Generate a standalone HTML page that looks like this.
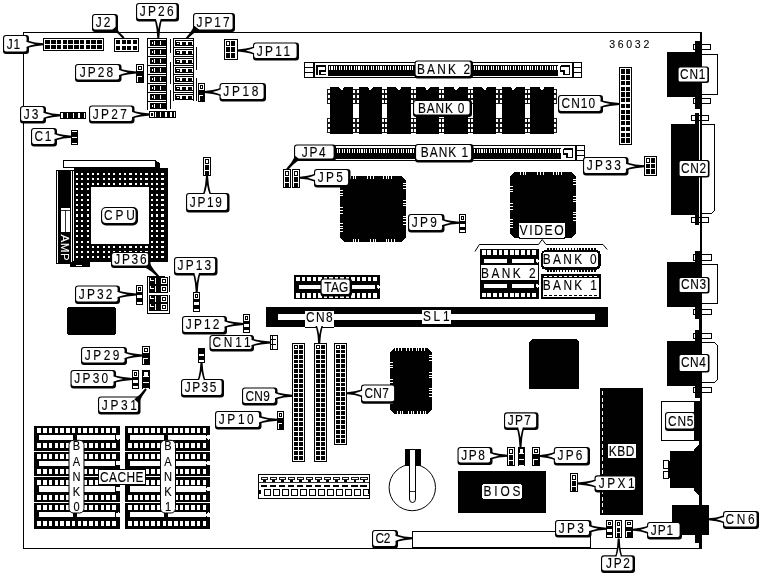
<!DOCTYPE html>
<html><head><meta charset="utf-8"><title>36032</title>
<style>
html,body{margin:0;padding:0;background:#fff}
svg{display:block}
text{font-family:"Liberation Sans",sans-serif;stroke:#000;stroke-width:0.12px}
</style></head>
<body>
<svg width="761" height="576" viewBox="0 0 761 576" shape-rendering="crispEdges">
<rect x="0" y="0" width="761" height="576" fill="#fff"/>
<g opacity="0.999">
<line x1="23.5" y1="32" x2="23.5" y2="549" stroke="#000" stroke-width="1"/>
<line x1="23" y1="32.5" x2="702" y2="32.5" stroke="#000" stroke-width="1"/>
<line x1="23" y1="548.5" x2="702" y2="548.5" stroke="#000" stroke-width="1"/>
<rect x="700" y="32" width="2" height="517" fill="#000"/>
<text transform="translate(609.3 47.6) scale(1 1)" font-size="10.5" fill="#000" letter-spacing="2.68">36032</text>
<rect x="43" y="38" width="61" height="13" fill="#000"/>
<rect x="44" y="39" width="59" height="11" fill="#fff"/>
<rect x="45.3" y="40.3" width="4.47" height="3.55" fill="#000"/>
<rect x="51.07" y="40.3" width="4.47" height="3.55" fill="#000"/>
<rect x="56.84" y="40.3" width="4.47" height="3.55" fill="#000"/>
<rect x="62.61" y="40.3" width="4.47" height="3.55" fill="#000"/>
<rect x="68.38" y="40.3" width="4.47" height="3.55" fill="#000"/>
<rect x="74.15" y="40.3" width="4.47" height="3.55" fill="#000"/>
<rect x="79.92" y="40.3" width="4.47" height="3.55" fill="#000"/>
<rect x="85.69" y="40.3" width="4.47" height="3.55" fill="#000"/>
<rect x="91.46" y="40.3" width="4.47" height="3.55" fill="#000"/>
<rect x="97.23" y="40.3" width="4.47" height="3.55" fill="#000"/>
<rect x="45.3" y="45.15" width="4.47" height="3.55" fill="#000"/>
<rect x="51.07" y="45.15" width="4.47" height="3.55" fill="#000"/>
<rect x="56.84" y="45.15" width="4.47" height="3.55" fill="#000"/>
<rect x="62.61" y="45.15" width="4.47" height="3.55" fill="#000"/>
<rect x="68.38" y="45.15" width="4.47" height="3.55" fill="#000"/>
<rect x="74.15" y="45.15" width="4.47" height="3.55" fill="#000"/>
<rect x="79.92" y="45.15" width="4.47" height="3.55" fill="#000"/>
<rect x="85.69" y="45.15" width="4.47" height="3.55" fill="#000"/>
<rect x="91.46" y="45.15" width="4.47" height="3.55" fill="#000"/>
<rect x="97.23" y="45.15" width="4.47" height="3.55" fill="#000"/>
<rect x="114" y="38" width="25" height="14" fill="#000"/>
<rect x="115" y="39" width="23" height="12" fill="#fff"/>
<rect x="116.3" y="40.3" width="4.12" height="4.05" fill="#000"/>
<rect x="121.72" y="40.3" width="4.12" height="4.05" fill="#000"/>
<rect x="127.15" y="40.3" width="4.12" height="4.05" fill="#000"/>
<rect x="132.57" y="40.3" width="4.12" height="4.05" fill="#000"/>
<rect x="116.3" y="45.65" width="4.12" height="4.05" fill="#000"/>
<rect x="121.72" y="45.65" width="4.12" height="4.05" fill="#000"/>
<rect x="127.15" y="45.65" width="4.12" height="4.05" fill="#000"/>
<rect x="132.57" y="45.65" width="4.12" height="4.05" fill="#000"/>
<rect x="147" y="38" width="20" height="1" fill="#000"/>
<rect x="147" y="38" width="1" height="9" fill="#000"/>
<rect x="166" y="38" width="1" height="9" fill="#000"/>
<rect x="149.6" y="40" width="17.4" height="6" fill="#000"/>
<rect x="150.6" y="41" width="4.2" height="4" fill="#fff"/>
<rect x="150.6" y="41" width="3" height="4" fill="#000"/>
<rect x="151.6" y="42" width="1" height="2" fill="#fff"/>
<rect x="160" y="41" width="1" height="4" fill="#fff"/>
<rect x="147" y="47" width="20" height="1" fill="#000"/>
<rect x="147" y="47" width="1" height="9" fill="#000"/>
<rect x="166" y="47" width="1" height="9" fill="#000"/>
<rect x="149.6" y="49" width="17.4" height="6" fill="#000"/>
<rect x="150.6" y="50" width="4.2" height="4" fill="#fff"/>
<rect x="150.6" y="50" width="3" height="4" fill="#000"/>
<rect x="151.6" y="51" width="1" height="2" fill="#fff"/>
<rect x="160" y="50" width="1" height="4" fill="#fff"/>
<rect x="147" y="56" width="20" height="1" fill="#000"/>
<rect x="147" y="56" width="1" height="9" fill="#000"/>
<rect x="166" y="56" width="1" height="9" fill="#000"/>
<rect x="149.6" y="58" width="17.4" height="6" fill="#000"/>
<rect x="150.6" y="59" width="4.2" height="4" fill="#fff"/>
<rect x="150.6" y="59" width="3" height="4" fill="#000"/>
<rect x="151.6" y="60" width="1" height="2" fill="#fff"/>
<rect x="160" y="59" width="1" height="4" fill="#fff"/>
<rect x="147" y="65" width="20" height="1" fill="#000"/>
<rect x="147" y="65" width="1" height="9" fill="#000"/>
<rect x="166" y="65" width="1" height="9" fill="#000"/>
<rect x="149.6" y="67" width="17.4" height="6" fill="#000"/>
<rect x="150.6" y="68" width="4.2" height="4" fill="#fff"/>
<rect x="150.6" y="68" width="3" height="4" fill="#000"/>
<rect x="151.6" y="69" width="1" height="2" fill="#fff"/>
<rect x="160" y="68" width="1" height="4" fill="#fff"/>
<rect x="147" y="74" width="20" height="1" fill="#000"/>
<rect x="147" y="74" width="1" height="9" fill="#000"/>
<rect x="166" y="74" width="1" height="9" fill="#000"/>
<rect x="149.6" y="76" width="17.4" height="6" fill="#000"/>
<rect x="150.6" y="77" width="4.2" height="4" fill="#fff"/>
<rect x="150.6" y="77" width="3" height="4" fill="#000"/>
<rect x="151.6" y="78" width="1" height="2" fill="#fff"/>
<rect x="160" y="77" width="1" height="4" fill="#fff"/>
<rect x="147" y="83" width="20" height="1" fill="#000"/>
<rect x="147" y="83" width="1" height="9" fill="#000"/>
<rect x="166" y="83" width="1" height="9" fill="#000"/>
<rect x="149.6" y="85" width="17.4" height="6" fill="#000"/>
<rect x="150.6" y="86" width="4.2" height="4" fill="#fff"/>
<rect x="150.6" y="86" width="3" height="4" fill="#000"/>
<rect x="151.6" y="87" width="1" height="2" fill="#fff"/>
<rect x="160" y="86" width="1" height="4" fill="#fff"/>
<rect x="147" y="92" width="20" height="1" fill="#000"/>
<rect x="147" y="92" width="1" height="9" fill="#000"/>
<rect x="166" y="92" width="1" height="9" fill="#000"/>
<rect x="149.6" y="94" width="17.4" height="6" fill="#000"/>
<rect x="150.6" y="95" width="4.2" height="4" fill="#fff"/>
<rect x="150.6" y="95" width="3" height="4" fill="#000"/>
<rect x="151.6" y="96" width="1" height="2" fill="#fff"/>
<rect x="160" y="95" width="1" height="4" fill="#fff"/>
<rect x="147" y="101" width="20" height="1" fill="#000"/>
<rect x="147" y="101" width="1" height="9" fill="#000"/>
<rect x="166" y="101" width="1" height="9" fill="#000"/>
<rect x="149.6" y="103" width="17.4" height="6" fill="#000"/>
<rect x="150.6" y="104" width="4.2" height="4" fill="#fff"/>
<rect x="150.6" y="104" width="3" height="4" fill="#000"/>
<rect x="151.6" y="105" width="1" height="2" fill="#fff"/>
<rect x="160" y="104" width="1" height="4" fill="#fff"/>
<rect x="173" y="38" width="21" height="1" fill="#000"/>
<rect x="173" y="38" width="1" height="9" fill="#000"/>
<rect x="193" y="38" width="1" height="9" fill="#000"/>
<rect x="175" y="40" width="19" height="6" fill="#000"/>
<rect x="176" y="41" width="17" height="4" fill="#fff"/>
<rect x="176.4" y="41.6" width="3.4" height="3.4" fill="#000"/>
<rect x="177.4" y="42.6" width="1.4" height="1.4" fill="#fff"/>
<rect x="182" y="41.6" width="4" height="3.4" fill="#000"/>
<rect x="188" y="41.6" width="4" height="3.4" fill="#000"/>
<rect x="173" y="47" width="21" height="1" fill="#000"/>
<rect x="173" y="47" width="1" height="9" fill="#000"/>
<rect x="193" y="47" width="1" height="9" fill="#000"/>
<rect x="175" y="49" width="19" height="6" fill="#000"/>
<rect x="176" y="50" width="17" height="4" fill="#fff"/>
<rect x="176.4" y="50.6" width="3.4" height="3.4" fill="#000"/>
<rect x="177.4" y="51.6" width="1.4" height="1.4" fill="#fff"/>
<rect x="182" y="50.6" width="4" height="3.4" fill="#000"/>
<rect x="188" y="50.6" width="4" height="3.4" fill="#000"/>
<rect x="173" y="56" width="21" height="1" fill="#000"/>
<rect x="173" y="56" width="1" height="9" fill="#000"/>
<rect x="193" y="56" width="1" height="9" fill="#000"/>
<rect x="175" y="58" width="19" height="6" fill="#000"/>
<rect x="176" y="59" width="17" height="4" fill="#fff"/>
<rect x="176.4" y="59.6" width="3.4" height="3.4" fill="#000"/>
<rect x="177.4" y="60.6" width="1.4" height="1.4" fill="#fff"/>
<rect x="182" y="59.6" width="4" height="3.4" fill="#000"/>
<rect x="188" y="59.6" width="4" height="3.4" fill="#000"/>
<rect x="173" y="65" width="21" height="1" fill="#000"/>
<rect x="173" y="65" width="1" height="9" fill="#000"/>
<rect x="193" y="65" width="1" height="9" fill="#000"/>
<rect x="175" y="67" width="19" height="6" fill="#000"/>
<rect x="176" y="68" width="17" height="4" fill="#fff"/>
<rect x="176.4" y="68.6" width="3.4" height="3.4" fill="#000"/>
<rect x="177.4" y="69.6" width="1.4" height="1.4" fill="#fff"/>
<rect x="182" y="68.6" width="4" height="3.4" fill="#000"/>
<rect x="188" y="68.6" width="4" height="3.4" fill="#000"/>
<rect x="173" y="74" width="21" height="1" fill="#000"/>
<rect x="173" y="74" width="1" height="9" fill="#000"/>
<rect x="193" y="74" width="1" height="9" fill="#000"/>
<rect x="175" y="76" width="19" height="6" fill="#000"/>
<rect x="176" y="77" width="17" height="4" fill="#fff"/>
<rect x="176.4" y="77.6" width="3.4" height="3.4" fill="#000"/>
<rect x="177.4" y="78.6" width="1.4" height="1.4" fill="#fff"/>
<rect x="182" y="77.6" width="4" height="3.4" fill="#000"/>
<rect x="188" y="77.6" width="4" height="3.4" fill="#000"/>
<rect x="173" y="83" width="21" height="1" fill="#000"/>
<rect x="173" y="83" width="1" height="9" fill="#000"/>
<rect x="193" y="83" width="1" height="9" fill="#000"/>
<rect x="175" y="85" width="19" height="6" fill="#000"/>
<rect x="176" y="86" width="17" height="4" fill="#fff"/>
<rect x="176.4" y="86.6" width="3.4" height="3.4" fill="#000"/>
<rect x="177.4" y="87.6" width="1.4" height="1.4" fill="#fff"/>
<rect x="182" y="86.6" width="4" height="3.4" fill="#000"/>
<rect x="188" y="86.6" width="4" height="3.4" fill="#000"/>
<rect x="173" y="92" width="21" height="1" fill="#000"/>
<rect x="173" y="92" width="1" height="9" fill="#000"/>
<rect x="193" y="92" width="1" height="9" fill="#000"/>
<rect x="175" y="94" width="19" height="6" fill="#000"/>
<rect x="176" y="95" width="17" height="4" fill="#fff"/>
<rect x="176.4" y="95.6" width="3.4" height="3.4" fill="#000"/>
<rect x="177.4" y="96.6" width="1.4" height="1.4" fill="#fff"/>
<rect x="182" y="95.6" width="4" height="3.4" fill="#000"/>
<rect x="188" y="95.6" width="4" height="3.4" fill="#000"/>
<line x1="170.5" y1="39" x2="170.5" y2="53" stroke="#000" stroke-width="1"/>
<line x1="170.5" y1="62" x2="170.5" y2="84" stroke="#000" stroke-width="1"/>
<line x1="170.5" y1="90" x2="170.5" y2="109" stroke="#000" stroke-width="1"/>
<line x1="196.5" y1="47" x2="196.5" y2="70" stroke="#000" stroke-width="1"/>
<line x1="196.5" y1="78" x2="196.5" y2="101" stroke="#000" stroke-width="1"/>
<rect x="136" y="64" width="8" height="19" fill="#000"/>
<rect x="137" y="65" width="6" height="6" fill="#fff"/>
<rect x="138" y="66" width="4" height="3.5" fill="#000"/>
<rect x="139" y="67" width="2" height="1.5" fill="#fff"/>
<rect x="137" y="75.5" width="5" height="1" fill="#fff"/>
<rect x="137" y="75.5" width="1" height="6.5" fill="#fff"/>
<rect x="224" y="39" width="13.5" height="21" fill="#000"/>
<rect x="225" y="40" width="11.5" height="19" fill="#fff"/>
<rect x="226.1" y="41.1" width="4.1" height="4.87" fill="#000"/>
<rect x="227.1" y="42.1" width="2.1" height="2.87" fill="#fff"/>
<rect x="231.3" y="41.1" width="4.1" height="4.87" fill="#000"/>
<rect x="226.1" y="47.07" width="4.1" height="4.87" fill="#000"/>
<rect x="231.3" y="47.07" width="4.1" height="4.87" fill="#000"/>
<rect x="226.1" y="53.03" width="4.1" height="4.87" fill="#000"/>
<rect x="231.3" y="53.03" width="4.1" height="4.87" fill="#000"/>
<rect x="198" y="83" width="7" height="19" fill="#000"/>
<rect x="199" y="84" width="5" height="6" fill="#fff"/>
<rect x="200" y="85" width="3" height="3.5" fill="#000"/>
<rect x="201" y="86" width="1" height="1.5" fill="#fff"/>
<rect x="199" y="94.5" width="4" height="1" fill="#fff"/>
<rect x="199" y="94.5" width="1" height="6.5" fill="#fff"/>
<rect x="60" y="112" width="26" height="7" fill="#000"/>
<rect x="61.2" y="113" width="1.8" height="5" fill="#fff"/>
<rect x="67" y="113" width="1.3" height="5" fill="#fff"/>
<rect x="72.9" y="113" width="1.3" height="5" fill="#fff"/>
<rect x="78.4" y="113" width="1.6" height="5" fill="#fff"/>
<rect x="83.9" y="113" width="1.3" height="5" fill="#fff"/>
<rect x="149" y="111" width="26.5" height="7" fill="#000"/>
<rect x="150" y="112" width="4.1" height="5" fill="#fff"/>
<rect x="151" y="113" width="2.1" height="3" fill="#000"/>
<rect x="152" y="114" width="0.1" height="1" fill="#fff"/>
<rect x="155.1" y="112" width="1.2" height="5" fill="#fff"/>
<rect x="160.2" y="112" width="1.2" height="5" fill="#fff"/>
<rect x="165.3" y="112" width="1.2" height="5" fill="#fff"/>
<rect x="170.4" y="112" width="1.2" height="5" fill="#fff"/>
<rect x="173.5" y="112" width="1" height="5" fill="#fff"/>
<rect x="71" y="130" width="7" height="15.2" fill="#000"/>
<rect x="72" y="131" width="5" height="1.2" fill="#fff"/>
<rect x="72" y="137" width="5" height="1.1" fill="#fff"/>
<rect x="72" y="142.6" width="5" height="1.2" fill="#fff"/>
<rect x="304" y="62" width="278" height="16" fill="#000"/>
<rect x="305" y="63" width="276" height="14" fill="#fff"/>
<rect x="312.5" y="62" width="2" height="16" fill="#000"/>
<line x1="304" y1="67.5" x2="313" y2="67.5" stroke="#000" stroke-width="1"/>
<line x1="304" y1="72.5" x2="313" y2="72.5" stroke="#000" stroke-width="1"/>
<polyline points="317,75 317,66 325.5,66 325.5,71 320,71 320,74.5 326,74.5" fill="none" stroke="#000" stroke-width="1.3"/>
<rect x="327.5" y="64.5" width="230.5" height="11.5" fill="#000"/>
<rect x="329" y="65.5" width="1.1" height="4.5" fill="#fff"/>
<rect x="331.45" y="65.5" width="1.1" height="4.5" fill="#fff"/>
<rect x="333.9" y="65.5" width="1.1" height="4.5" fill="#fff"/>
<rect x="336.35" y="65.5" width="1.1" height="4.5" fill="#fff"/>
<rect x="338.8" y="65.5" width="1.1" height="4.5" fill="#fff"/>
<rect x="341.25" y="65.5" width="1.1" height="4.5" fill="#fff"/>
<rect x="343.7" y="65.5" width="1.1" height="4.5" fill="#fff"/>
<rect x="346.15" y="65.5" width="1.1" height="4.5" fill="#fff"/>
<rect x="348.6" y="65.5" width="1.1" height="4.5" fill="#fff"/>
<rect x="351.05" y="65.5" width="1.1" height="4.5" fill="#fff"/>
<rect x="353.5" y="65.5" width="1.1" height="4.5" fill="#fff"/>
<rect x="355.95" y="65.5" width="1.1" height="4.5" fill="#fff"/>
<rect x="358.4" y="65.5" width="1.1" height="4.5" fill="#fff"/>
<rect x="360.85" y="65.5" width="1.1" height="4.5" fill="#fff"/>
<rect x="363.3" y="65.5" width="1.1" height="4.5" fill="#fff"/>
<rect x="365.75" y="65.5" width="1.1" height="4.5" fill="#fff"/>
<rect x="368.2" y="65.5" width="1.1" height="4.5" fill="#fff"/>
<rect x="370.65" y="65.5" width="1.1" height="4.5" fill="#fff"/>
<rect x="373.1" y="65.5" width="1.1" height="4.5" fill="#fff"/>
<rect x="375.55" y="65.5" width="1.1" height="4.5" fill="#fff"/>
<rect x="378" y="65.5" width="1.1" height="4.5" fill="#fff"/>
<rect x="380.45" y="65.5" width="1.1" height="4.5" fill="#fff"/>
<rect x="382.9" y="65.5" width="1.1" height="4.5" fill="#fff"/>
<rect x="385.35" y="65.5" width="1.1" height="4.5" fill="#fff"/>
<rect x="387.8" y="65.5" width="1.1" height="4.5" fill="#fff"/>
<rect x="390.25" y="65.5" width="1.1" height="4.5" fill="#fff"/>
<rect x="392.7" y="65.5" width="1.1" height="4.5" fill="#fff"/>
<rect x="395.15" y="65.5" width="1.1" height="4.5" fill="#fff"/>
<rect x="397.6" y="65.5" width="1.1" height="4.5" fill="#fff"/>
<rect x="400.05" y="65.5" width="1.1" height="4.5" fill="#fff"/>
<rect x="402.5" y="65.5" width="1.1" height="4.5" fill="#fff"/>
<rect x="404.95" y="65.5" width="1.1" height="4.5" fill="#fff"/>
<rect x="407.4" y="65.5" width="1.1" height="4.5" fill="#fff"/>
<rect x="409.85" y="65.5" width="1.1" height="4.5" fill="#fff"/>
<rect x="412.3" y="65.5" width="1.1" height="4.5" fill="#fff"/>
<rect x="414.75" y="65.5" width="1.1" height="4.5" fill="#fff"/>
<rect x="417.2" y="65.5" width="1.1" height="4.5" fill="#fff"/>
<rect x="419.65" y="65.5" width="1.1" height="4.5" fill="#fff"/>
<rect x="422.1" y="65.5" width="1.1" height="4.5" fill="#fff"/>
<rect x="424.55" y="65.5" width="1.1" height="4.5" fill="#fff"/>
<rect x="427" y="65.5" width="1.1" height="4.5" fill="#fff"/>
<rect x="429.45" y="65.5" width="1.1" height="4.5" fill="#fff"/>
<rect x="431.9" y="65.5" width="1.1" height="4.5" fill="#fff"/>
<rect x="434.35" y="65.5" width="1.1" height="4.5" fill="#fff"/>
<rect x="436.8" y="65.5" width="1.1" height="4.5" fill="#fff"/>
<rect x="439.25" y="65.5" width="1.1" height="4.5" fill="#fff"/>
<rect x="441.7" y="65.5" width="1.1" height="4.5" fill="#fff"/>
<rect x="444.15" y="65.5" width="1.1" height="4.5" fill="#fff"/>
<rect x="446.6" y="65.5" width="1.1" height="4.5" fill="#fff"/>
<rect x="449.05" y="65.5" width="1.1" height="4.5" fill="#fff"/>
<rect x="451.5" y="65.5" width="1.1" height="4.5" fill="#fff"/>
<rect x="453.95" y="65.5" width="1.1" height="4.5" fill="#fff"/>
<rect x="456.4" y="65.5" width="1.1" height="4.5" fill="#fff"/>
<rect x="458.85" y="65.5" width="1.1" height="4.5" fill="#fff"/>
<rect x="461.3" y="65.5" width="1.1" height="4.5" fill="#fff"/>
<rect x="463.75" y="65.5" width="1.1" height="4.5" fill="#fff"/>
<rect x="466.2" y="65.5" width="1.1" height="4.5" fill="#fff"/>
<rect x="468.65" y="65.5" width="1.1" height="4.5" fill="#fff"/>
<rect x="471.1" y="65.5" width="1.1" height="4.5" fill="#fff"/>
<rect x="473.55" y="65.5" width="1.1" height="4.5" fill="#fff"/>
<rect x="476" y="65.5" width="1.1" height="4.5" fill="#fff"/>
<rect x="478.45" y="65.5" width="1.1" height="4.5" fill="#fff"/>
<rect x="480.9" y="65.5" width="1.1" height="4.5" fill="#fff"/>
<rect x="483.35" y="65.5" width="1.1" height="4.5" fill="#fff"/>
<rect x="485.8" y="65.5" width="1.1" height="4.5" fill="#fff"/>
<rect x="488.25" y="65.5" width="1.1" height="4.5" fill="#fff"/>
<rect x="490.7" y="65.5" width="1.1" height="4.5" fill="#fff"/>
<rect x="493.15" y="65.5" width="1.1" height="4.5" fill="#fff"/>
<rect x="495.6" y="65.5" width="1.1" height="4.5" fill="#fff"/>
<rect x="498.05" y="65.5" width="1.1" height="4.5" fill="#fff"/>
<rect x="500.5" y="65.5" width="1.1" height="4.5" fill="#fff"/>
<rect x="502.95" y="65.5" width="1.1" height="4.5" fill="#fff"/>
<rect x="505.4" y="65.5" width="1.1" height="4.5" fill="#fff"/>
<rect x="507.85" y="65.5" width="1.1" height="4.5" fill="#fff"/>
<rect x="510.3" y="65.5" width="1.1" height="4.5" fill="#fff"/>
<rect x="512.75" y="65.5" width="1.1" height="4.5" fill="#fff"/>
<rect x="515.2" y="65.5" width="1.1" height="4.5" fill="#fff"/>
<rect x="517.65" y="65.5" width="1.1" height="4.5" fill="#fff"/>
<rect x="520.1" y="65.5" width="1.1" height="4.5" fill="#fff"/>
<rect x="522.55" y="65.5" width="1.1" height="4.5" fill="#fff"/>
<rect x="525" y="65.5" width="1.1" height="4.5" fill="#fff"/>
<rect x="527.45" y="65.5" width="1.1" height="4.5" fill="#fff"/>
<rect x="529.9" y="65.5" width="1.1" height="4.5" fill="#fff"/>
<rect x="532.35" y="65.5" width="1.1" height="4.5" fill="#fff"/>
<rect x="534.8" y="65.5" width="1.1" height="4.5" fill="#fff"/>
<rect x="537.25" y="65.5" width="1.1" height="4.5" fill="#fff"/>
<rect x="539.7" y="65.5" width="1.1" height="4.5" fill="#fff"/>
<rect x="542.15" y="65.5" width="1.1" height="4.5" fill="#fff"/>
<rect x="544.6" y="65.5" width="1.1" height="4.5" fill="#fff"/>
<rect x="547.05" y="65.5" width="1.1" height="4.5" fill="#fff"/>
<rect x="549.5" y="65.5" width="1.1" height="4.5" fill="#fff"/>
<rect x="551.95" y="65.5" width="1.1" height="4.5" fill="#fff"/>
<rect x="554.4" y="65.5" width="1.1" height="4.5" fill="#fff"/>
<rect x="556.85" y="65.5" width="1.1" height="4.5" fill="#fff"/>
<polyline points="561,66 569.5,66 569.5,74.5 564,74.5 564,71 560.5,71 560.5,66" fill="none" stroke="#000" stroke-width="1.3"/>
<rect x="571.5" y="62" width="2" height="16" fill="#000"/>
<line x1="573" y1="67.5" x2="582" y2="67.5" stroke="#000" stroke-width="1"/>
<line x1="573" y1="72.5" x2="582" y2="72.5" stroke="#000" stroke-width="1"/>
<rect x="307" y="145" width="278" height="16" fill="#000"/>
<rect x="308" y="146" width="276" height="14" fill="#fff"/>
<rect x="315.5" y="145" width="2" height="16" fill="#000"/>
<line x1="307" y1="150.5" x2="316" y2="150.5" stroke="#000" stroke-width="1"/>
<line x1="307" y1="155.5" x2="316" y2="155.5" stroke="#000" stroke-width="1"/>
<polyline points="320,158 320,149 328.5,149 328.5,154 323,154 323,157.5 329,157.5" fill="none" stroke="#000" stroke-width="1.3"/>
<rect x="330.5" y="147.5" width="230.5" height="11.5" fill="#000"/>
<rect x="332" y="148.5" width="1.1" height="4.5" fill="#fff"/>
<rect x="334.45" y="148.5" width="1.1" height="4.5" fill="#fff"/>
<rect x="336.9" y="148.5" width="1.1" height="4.5" fill="#fff"/>
<rect x="339.35" y="148.5" width="1.1" height="4.5" fill="#fff"/>
<rect x="341.8" y="148.5" width="1.1" height="4.5" fill="#fff"/>
<rect x="344.25" y="148.5" width="1.1" height="4.5" fill="#fff"/>
<rect x="346.7" y="148.5" width="1.1" height="4.5" fill="#fff"/>
<rect x="349.15" y="148.5" width="1.1" height="4.5" fill="#fff"/>
<rect x="351.6" y="148.5" width="1.1" height="4.5" fill="#fff"/>
<rect x="354.05" y="148.5" width="1.1" height="4.5" fill="#fff"/>
<rect x="356.5" y="148.5" width="1.1" height="4.5" fill="#fff"/>
<rect x="358.95" y="148.5" width="1.1" height="4.5" fill="#fff"/>
<rect x="361.4" y="148.5" width="1.1" height="4.5" fill="#fff"/>
<rect x="363.85" y="148.5" width="1.1" height="4.5" fill="#fff"/>
<rect x="366.3" y="148.5" width="1.1" height="4.5" fill="#fff"/>
<rect x="368.75" y="148.5" width="1.1" height="4.5" fill="#fff"/>
<rect x="371.2" y="148.5" width="1.1" height="4.5" fill="#fff"/>
<rect x="373.65" y="148.5" width="1.1" height="4.5" fill="#fff"/>
<rect x="376.1" y="148.5" width="1.1" height="4.5" fill="#fff"/>
<rect x="378.55" y="148.5" width="1.1" height="4.5" fill="#fff"/>
<rect x="381" y="148.5" width="1.1" height="4.5" fill="#fff"/>
<rect x="383.45" y="148.5" width="1.1" height="4.5" fill="#fff"/>
<rect x="385.9" y="148.5" width="1.1" height="4.5" fill="#fff"/>
<rect x="388.35" y="148.5" width="1.1" height="4.5" fill="#fff"/>
<rect x="390.8" y="148.5" width="1.1" height="4.5" fill="#fff"/>
<rect x="393.25" y="148.5" width="1.1" height="4.5" fill="#fff"/>
<rect x="395.7" y="148.5" width="1.1" height="4.5" fill="#fff"/>
<rect x="398.15" y="148.5" width="1.1" height="4.5" fill="#fff"/>
<rect x="400.6" y="148.5" width="1.1" height="4.5" fill="#fff"/>
<rect x="403.05" y="148.5" width="1.1" height="4.5" fill="#fff"/>
<rect x="405.5" y="148.5" width="1.1" height="4.5" fill="#fff"/>
<rect x="407.95" y="148.5" width="1.1" height="4.5" fill="#fff"/>
<rect x="410.4" y="148.5" width="1.1" height="4.5" fill="#fff"/>
<rect x="412.85" y="148.5" width="1.1" height="4.5" fill="#fff"/>
<rect x="415.3" y="148.5" width="1.1" height="4.5" fill="#fff"/>
<rect x="417.75" y="148.5" width="1.1" height="4.5" fill="#fff"/>
<rect x="420.2" y="148.5" width="1.1" height="4.5" fill="#fff"/>
<rect x="422.65" y="148.5" width="1.1" height="4.5" fill="#fff"/>
<rect x="425.1" y="148.5" width="1.1" height="4.5" fill="#fff"/>
<rect x="427.55" y="148.5" width="1.1" height="4.5" fill="#fff"/>
<rect x="430" y="148.5" width="1.1" height="4.5" fill="#fff"/>
<rect x="432.45" y="148.5" width="1.1" height="4.5" fill="#fff"/>
<rect x="434.9" y="148.5" width="1.1" height="4.5" fill="#fff"/>
<rect x="437.35" y="148.5" width="1.1" height="4.5" fill="#fff"/>
<rect x="439.8" y="148.5" width="1.1" height="4.5" fill="#fff"/>
<rect x="442.25" y="148.5" width="1.1" height="4.5" fill="#fff"/>
<rect x="444.7" y="148.5" width="1.1" height="4.5" fill="#fff"/>
<rect x="447.15" y="148.5" width="1.1" height="4.5" fill="#fff"/>
<rect x="449.6" y="148.5" width="1.1" height="4.5" fill="#fff"/>
<rect x="452.05" y="148.5" width="1.1" height="4.5" fill="#fff"/>
<rect x="454.5" y="148.5" width="1.1" height="4.5" fill="#fff"/>
<rect x="456.95" y="148.5" width="1.1" height="4.5" fill="#fff"/>
<rect x="459.4" y="148.5" width="1.1" height="4.5" fill="#fff"/>
<rect x="461.85" y="148.5" width="1.1" height="4.5" fill="#fff"/>
<rect x="464.3" y="148.5" width="1.1" height="4.5" fill="#fff"/>
<rect x="466.75" y="148.5" width="1.1" height="4.5" fill="#fff"/>
<rect x="469.2" y="148.5" width="1.1" height="4.5" fill="#fff"/>
<rect x="471.65" y="148.5" width="1.1" height="4.5" fill="#fff"/>
<rect x="474.1" y="148.5" width="1.1" height="4.5" fill="#fff"/>
<rect x="476.55" y="148.5" width="1.1" height="4.5" fill="#fff"/>
<rect x="479" y="148.5" width="1.1" height="4.5" fill="#fff"/>
<rect x="481.45" y="148.5" width="1.1" height="4.5" fill="#fff"/>
<rect x="483.9" y="148.5" width="1.1" height="4.5" fill="#fff"/>
<rect x="486.35" y="148.5" width="1.1" height="4.5" fill="#fff"/>
<rect x="488.8" y="148.5" width="1.1" height="4.5" fill="#fff"/>
<rect x="491.25" y="148.5" width="1.1" height="4.5" fill="#fff"/>
<rect x="493.7" y="148.5" width="1.1" height="4.5" fill="#fff"/>
<rect x="496.15" y="148.5" width="1.1" height="4.5" fill="#fff"/>
<rect x="498.6" y="148.5" width="1.1" height="4.5" fill="#fff"/>
<rect x="501.05" y="148.5" width="1.1" height="4.5" fill="#fff"/>
<rect x="503.5" y="148.5" width="1.1" height="4.5" fill="#fff"/>
<rect x="505.95" y="148.5" width="1.1" height="4.5" fill="#fff"/>
<rect x="508.4" y="148.5" width="1.1" height="4.5" fill="#fff"/>
<rect x="510.85" y="148.5" width="1.1" height="4.5" fill="#fff"/>
<rect x="513.3" y="148.5" width="1.1" height="4.5" fill="#fff"/>
<rect x="515.75" y="148.5" width="1.1" height="4.5" fill="#fff"/>
<rect x="518.2" y="148.5" width="1.1" height="4.5" fill="#fff"/>
<rect x="520.65" y="148.5" width="1.1" height="4.5" fill="#fff"/>
<rect x="523.1" y="148.5" width="1.1" height="4.5" fill="#fff"/>
<rect x="525.55" y="148.5" width="1.1" height="4.5" fill="#fff"/>
<rect x="528" y="148.5" width="1.1" height="4.5" fill="#fff"/>
<rect x="530.45" y="148.5" width="1.1" height="4.5" fill="#fff"/>
<rect x="532.9" y="148.5" width="1.1" height="4.5" fill="#fff"/>
<rect x="535.35" y="148.5" width="1.1" height="4.5" fill="#fff"/>
<rect x="537.8" y="148.5" width="1.1" height="4.5" fill="#fff"/>
<rect x="540.25" y="148.5" width="1.1" height="4.5" fill="#fff"/>
<rect x="542.7" y="148.5" width="1.1" height="4.5" fill="#fff"/>
<rect x="545.15" y="148.5" width="1.1" height="4.5" fill="#fff"/>
<rect x="547.6" y="148.5" width="1.1" height="4.5" fill="#fff"/>
<rect x="550.05" y="148.5" width="1.1" height="4.5" fill="#fff"/>
<rect x="552.5" y="148.5" width="1.1" height="4.5" fill="#fff"/>
<rect x="554.95" y="148.5" width="1.1" height="4.5" fill="#fff"/>
<rect x="557.4" y="148.5" width="1.1" height="4.5" fill="#fff"/>
<rect x="559.85" y="148.5" width="1.1" height="4.5" fill="#fff"/>
<polyline points="564,149 572.5,149 572.5,157.5 567,157.5 567,154 563.5,154 563.5,149" fill="none" stroke="#000" stroke-width="1.3"/>
<rect x="574.5" y="145" width="2" height="16" fill="#000"/>
<line x1="576" y1="150.5" x2="585" y2="150.5" stroke="#000" stroke-width="1"/>
<line x1="576" y1="155.5" x2="585" y2="155.5" stroke="#000" stroke-width="1"/>
<rect x="327.5" y="89.5" width="3.5" height="4" fill="#fff" stroke="#000" stroke-width="0.9"/>
<rect x="327.5" y="94.7" width="3.5" height="4" fill="#fff" stroke="#000" stroke-width="0.9"/>
<rect x="327.5" y="99.9" width="3.5" height="4" fill="#fff" stroke="#000" stroke-width="0.9"/>
<rect x="327.5" y="118.5" width="3.5" height="4" fill="#fff" stroke="#000" stroke-width="0.9"/>
<rect x="327.5" y="123.7" width="3.5" height="4" fill="#fff" stroke="#000" stroke-width="0.9"/>
<rect x="327.5" y="128.9" width="3.5" height="4" fill="#fff" stroke="#000" stroke-width="0.9"/>
<rect x="352.3" y="89.5" width="3.5" height="4" fill="#fff" stroke="#000" stroke-width="0.9"/>
<rect x="352.3" y="94.7" width="3.5" height="4" fill="#fff" stroke="#000" stroke-width="0.9"/>
<rect x="352.3" y="99.9" width="3.5" height="4" fill="#fff" stroke="#000" stroke-width="0.9"/>
<rect x="352.3" y="118.5" width="3.5" height="4" fill="#fff" stroke="#000" stroke-width="0.9"/>
<rect x="352.3" y="123.7" width="3.5" height="4" fill="#fff" stroke="#000" stroke-width="0.9"/>
<rect x="352.3" y="128.9" width="3.5" height="4" fill="#fff" stroke="#000" stroke-width="0.9"/>
<rect x="330" y="87" width="23.3" height="46.5" fill="#000"/>
<polygon points="338.65,86.8 344.65,86.8 342.65,89.5 340.65,89.5" fill="#fff"/>
<rect x="356.12" y="89.5" width="3.5" height="4" fill="#fff" stroke="#000" stroke-width="0.9"/>
<rect x="356.12" y="94.7" width="3.5" height="4" fill="#fff" stroke="#000" stroke-width="0.9"/>
<rect x="356.12" y="99.9" width="3.5" height="4" fill="#fff" stroke="#000" stroke-width="0.9"/>
<rect x="356.12" y="118.5" width="3.5" height="4" fill="#fff" stroke="#000" stroke-width="0.9"/>
<rect x="356.12" y="123.7" width="3.5" height="4" fill="#fff" stroke="#000" stroke-width="0.9"/>
<rect x="356.12" y="128.9" width="3.5" height="4" fill="#fff" stroke="#000" stroke-width="0.9"/>
<rect x="380.92" y="89.5" width="3.5" height="4" fill="#fff" stroke="#000" stroke-width="0.9"/>
<rect x="380.92" y="94.7" width="3.5" height="4" fill="#fff" stroke="#000" stroke-width="0.9"/>
<rect x="380.92" y="99.9" width="3.5" height="4" fill="#fff" stroke="#000" stroke-width="0.9"/>
<rect x="380.92" y="118.5" width="3.5" height="4" fill="#fff" stroke="#000" stroke-width="0.9"/>
<rect x="380.92" y="123.7" width="3.5" height="4" fill="#fff" stroke="#000" stroke-width="0.9"/>
<rect x="380.92" y="128.9" width="3.5" height="4" fill="#fff" stroke="#000" stroke-width="0.9"/>
<rect x="358.62" y="87" width="23.3" height="46.5" fill="#000"/>
<polygon points="367.27,86.8 373.27,86.8 371.27,89.5 369.27,89.5" fill="#fff"/>
<rect x="384.74" y="89.5" width="3.5" height="4" fill="#fff" stroke="#000" stroke-width="0.9"/>
<rect x="384.74" y="94.7" width="3.5" height="4" fill="#fff" stroke="#000" stroke-width="0.9"/>
<rect x="384.74" y="99.9" width="3.5" height="4" fill="#fff" stroke="#000" stroke-width="0.9"/>
<rect x="384.74" y="118.5" width="3.5" height="4" fill="#fff" stroke="#000" stroke-width="0.9"/>
<rect x="384.74" y="123.7" width="3.5" height="4" fill="#fff" stroke="#000" stroke-width="0.9"/>
<rect x="384.74" y="128.9" width="3.5" height="4" fill="#fff" stroke="#000" stroke-width="0.9"/>
<rect x="409.54" y="89.5" width="3.5" height="4" fill="#fff" stroke="#000" stroke-width="0.9"/>
<rect x="409.54" y="94.7" width="3.5" height="4" fill="#fff" stroke="#000" stroke-width="0.9"/>
<rect x="409.54" y="99.9" width="3.5" height="4" fill="#fff" stroke="#000" stroke-width="0.9"/>
<rect x="409.54" y="118.5" width="3.5" height="4" fill="#fff" stroke="#000" stroke-width="0.9"/>
<rect x="409.54" y="123.7" width="3.5" height="4" fill="#fff" stroke="#000" stroke-width="0.9"/>
<rect x="409.54" y="128.9" width="3.5" height="4" fill="#fff" stroke="#000" stroke-width="0.9"/>
<rect x="387.24" y="87" width="23.3" height="46.5" fill="#000"/>
<polygon points="395.89,86.8 401.89,86.8 399.89,89.5 397.89,89.5" fill="#fff"/>
<rect x="413.36" y="89.5" width="3.5" height="4" fill="#fff" stroke="#000" stroke-width="0.9"/>
<rect x="413.36" y="94.7" width="3.5" height="4" fill="#fff" stroke="#000" stroke-width="0.9"/>
<rect x="413.36" y="99.9" width="3.5" height="4" fill="#fff" stroke="#000" stroke-width="0.9"/>
<rect x="413.36" y="118.5" width="3.5" height="4" fill="#fff" stroke="#000" stroke-width="0.9"/>
<rect x="413.36" y="123.7" width="3.5" height="4" fill="#fff" stroke="#000" stroke-width="0.9"/>
<rect x="413.36" y="128.9" width="3.5" height="4" fill="#fff" stroke="#000" stroke-width="0.9"/>
<rect x="438.16" y="89.5" width="3.5" height="4" fill="#fff" stroke="#000" stroke-width="0.9"/>
<rect x="438.16" y="94.7" width="3.5" height="4" fill="#fff" stroke="#000" stroke-width="0.9"/>
<rect x="438.16" y="99.9" width="3.5" height="4" fill="#fff" stroke="#000" stroke-width="0.9"/>
<rect x="438.16" y="118.5" width="3.5" height="4" fill="#fff" stroke="#000" stroke-width="0.9"/>
<rect x="438.16" y="123.7" width="3.5" height="4" fill="#fff" stroke="#000" stroke-width="0.9"/>
<rect x="438.16" y="128.9" width="3.5" height="4" fill="#fff" stroke="#000" stroke-width="0.9"/>
<rect x="415.86" y="87" width="23.3" height="46.5" fill="#000"/>
<polygon points="424.51,86.8 430.51,86.8 428.51,89.5 426.51,89.5" fill="#fff"/>
<rect x="441.98" y="89.5" width="3.5" height="4" fill="#fff" stroke="#000" stroke-width="0.9"/>
<rect x="441.98" y="94.7" width="3.5" height="4" fill="#fff" stroke="#000" stroke-width="0.9"/>
<rect x="441.98" y="99.9" width="3.5" height="4" fill="#fff" stroke="#000" stroke-width="0.9"/>
<rect x="441.98" y="118.5" width="3.5" height="4" fill="#fff" stroke="#000" stroke-width="0.9"/>
<rect x="441.98" y="123.7" width="3.5" height="4" fill="#fff" stroke="#000" stroke-width="0.9"/>
<rect x="441.98" y="128.9" width="3.5" height="4" fill="#fff" stroke="#000" stroke-width="0.9"/>
<rect x="466.78" y="89.5" width="3.5" height="4" fill="#fff" stroke="#000" stroke-width="0.9"/>
<rect x="466.78" y="94.7" width="3.5" height="4" fill="#fff" stroke="#000" stroke-width="0.9"/>
<rect x="466.78" y="99.9" width="3.5" height="4" fill="#fff" stroke="#000" stroke-width="0.9"/>
<rect x="466.78" y="118.5" width="3.5" height="4" fill="#fff" stroke="#000" stroke-width="0.9"/>
<rect x="466.78" y="123.7" width="3.5" height="4" fill="#fff" stroke="#000" stroke-width="0.9"/>
<rect x="466.78" y="128.9" width="3.5" height="4" fill="#fff" stroke="#000" stroke-width="0.9"/>
<rect x="444.48" y="87" width="23.3" height="46.5" fill="#000"/>
<polygon points="453.13,86.8 459.13,86.8 457.13,89.5 455.13,89.5" fill="#fff"/>
<rect x="470.6" y="89.5" width="3.5" height="4" fill="#fff" stroke="#000" stroke-width="0.9"/>
<rect x="470.6" y="94.7" width="3.5" height="4" fill="#fff" stroke="#000" stroke-width="0.9"/>
<rect x="470.6" y="99.9" width="3.5" height="4" fill="#fff" stroke="#000" stroke-width="0.9"/>
<rect x="470.6" y="118.5" width="3.5" height="4" fill="#fff" stroke="#000" stroke-width="0.9"/>
<rect x="470.6" y="123.7" width="3.5" height="4" fill="#fff" stroke="#000" stroke-width="0.9"/>
<rect x="470.6" y="128.9" width="3.5" height="4" fill="#fff" stroke="#000" stroke-width="0.9"/>
<rect x="495.4" y="89.5" width="3.5" height="4" fill="#fff" stroke="#000" stroke-width="0.9"/>
<rect x="495.4" y="94.7" width="3.5" height="4" fill="#fff" stroke="#000" stroke-width="0.9"/>
<rect x="495.4" y="99.9" width="3.5" height="4" fill="#fff" stroke="#000" stroke-width="0.9"/>
<rect x="495.4" y="118.5" width="3.5" height="4" fill="#fff" stroke="#000" stroke-width="0.9"/>
<rect x="495.4" y="123.7" width="3.5" height="4" fill="#fff" stroke="#000" stroke-width="0.9"/>
<rect x="495.4" y="128.9" width="3.5" height="4" fill="#fff" stroke="#000" stroke-width="0.9"/>
<rect x="473.1" y="87" width="23.3" height="46.5" fill="#000"/>
<polygon points="481.75,86.8 487.75,86.8 485.75,89.5 483.75,89.5" fill="#fff"/>
<rect x="499.22" y="89.5" width="3.5" height="4" fill="#fff" stroke="#000" stroke-width="0.9"/>
<rect x="499.22" y="94.7" width="3.5" height="4" fill="#fff" stroke="#000" stroke-width="0.9"/>
<rect x="499.22" y="99.9" width="3.5" height="4" fill="#fff" stroke="#000" stroke-width="0.9"/>
<rect x="499.22" y="118.5" width="3.5" height="4" fill="#fff" stroke="#000" stroke-width="0.9"/>
<rect x="499.22" y="123.7" width="3.5" height="4" fill="#fff" stroke="#000" stroke-width="0.9"/>
<rect x="499.22" y="128.9" width="3.5" height="4" fill="#fff" stroke="#000" stroke-width="0.9"/>
<rect x="524.02" y="89.5" width="3.5" height="4" fill="#fff" stroke="#000" stroke-width="0.9"/>
<rect x="524.02" y="94.7" width="3.5" height="4" fill="#fff" stroke="#000" stroke-width="0.9"/>
<rect x="524.02" y="99.9" width="3.5" height="4" fill="#fff" stroke="#000" stroke-width="0.9"/>
<rect x="524.02" y="118.5" width="3.5" height="4" fill="#fff" stroke="#000" stroke-width="0.9"/>
<rect x="524.02" y="123.7" width="3.5" height="4" fill="#fff" stroke="#000" stroke-width="0.9"/>
<rect x="524.02" y="128.9" width="3.5" height="4" fill="#fff" stroke="#000" stroke-width="0.9"/>
<rect x="501.72" y="87" width="23.3" height="46.5" fill="#000"/>
<polygon points="510.37,86.8 516.37,86.8 514.37,89.5 512.37,89.5" fill="#fff"/>
<rect x="527.84" y="89.5" width="3.5" height="4" fill="#fff" stroke="#000" stroke-width="0.9"/>
<rect x="527.84" y="94.7" width="3.5" height="4" fill="#fff" stroke="#000" stroke-width="0.9"/>
<rect x="527.84" y="99.9" width="3.5" height="4" fill="#fff" stroke="#000" stroke-width="0.9"/>
<rect x="527.84" y="118.5" width="3.5" height="4" fill="#fff" stroke="#000" stroke-width="0.9"/>
<rect x="527.84" y="123.7" width="3.5" height="4" fill="#fff" stroke="#000" stroke-width="0.9"/>
<rect x="527.84" y="128.9" width="3.5" height="4" fill="#fff" stroke="#000" stroke-width="0.9"/>
<rect x="552.64" y="89.5" width="3.5" height="4" fill="#fff" stroke="#000" stroke-width="0.9"/>
<rect x="552.64" y="94.7" width="3.5" height="4" fill="#fff" stroke="#000" stroke-width="0.9"/>
<rect x="552.64" y="99.9" width="3.5" height="4" fill="#fff" stroke="#000" stroke-width="0.9"/>
<rect x="552.64" y="118.5" width="3.5" height="4" fill="#fff" stroke="#000" stroke-width="0.9"/>
<rect x="552.64" y="123.7" width="3.5" height="4" fill="#fff" stroke="#000" stroke-width="0.9"/>
<rect x="552.64" y="128.9" width="3.5" height="4" fill="#fff" stroke="#000" stroke-width="0.9"/>
<rect x="530.34" y="87" width="23.3" height="46.5" fill="#000"/>
<polygon points="538.99,86.8 544.99,86.8 542.99,89.5 540.99,89.5" fill="#fff"/>
<rect x="283" y="169" width="8" height="19" fill="#000"/>
<rect x="284" y="170" width="6" height="17" fill="#fff"/>
<rect x="285" y="171" width="4" height="4.5" fill="#000"/>
<rect x="286" y="172" width="2" height="2.5" fill="#fff"/>
<rect x="285" y="177" width="4" height="4.5" fill="#000"/>
<rect x="285" y="183" width="4" height="4.5" fill="#000"/>
<rect x="292" y="169" width="8" height="19" fill="#000"/>
<rect x="293" y="170" width="6" height="17" fill="#fff"/>
<rect x="294" y="171" width="4" height="4.5" fill="#000"/>
<rect x="295" y="172" width="2" height="2.5" fill="#fff"/>
<rect x="294" y="177" width="4" height="4.5" fill="#000"/>
<rect x="294" y="183" width="4" height="4.5" fill="#000"/>
<rect x="203" y="157" width="8" height="19" fill="#000"/>
<rect x="204" y="158" width="6" height="17" fill="#fff"/>
<rect x="205" y="159" width="4" height="4.5" fill="#000"/>
<rect x="206" y="160" width="2" height="2.5" fill="#fff"/>
<rect x="205" y="165" width="4" height="4.5" fill="#000"/>
<rect x="205" y="171" width="4" height="4.5" fill="#000"/>
<rect x="619" y="67" width="13" height="78" fill="#000"/>
<rect x="620" y="68" width="11" height="76" fill="#fff"/>
<rect x="621.3" y="69.3" width="3.55" height="4.45" fill="#000"/>
<rect x="626.15" y="69.3" width="3.55" height="4.45" fill="#000"/>
<rect x="621.3" y="75.05" width="3.55" height="4.45" fill="#000"/>
<rect x="626.15" y="75.05" width="3.55" height="4.45" fill="#000"/>
<rect x="621.3" y="80.79" width="3.55" height="4.45" fill="#000"/>
<rect x="626.15" y="80.79" width="3.55" height="4.45" fill="#000"/>
<rect x="621.3" y="86.54" width="3.55" height="4.45" fill="#000"/>
<rect x="626.15" y="86.54" width="3.55" height="4.45" fill="#000"/>
<rect x="621.3" y="92.28" width="3.55" height="4.45" fill="#000"/>
<rect x="626.15" y="92.28" width="3.55" height="4.45" fill="#000"/>
<rect x="621.3" y="98.03" width="3.55" height="4.45" fill="#000"/>
<rect x="626.15" y="98.03" width="3.55" height="4.45" fill="#000"/>
<rect x="621.3" y="103.78" width="3.55" height="4.45" fill="#000"/>
<rect x="626.15" y="103.78" width="3.55" height="4.45" fill="#000"/>
<rect x="621.3" y="109.52" width="3.55" height="4.45" fill="#000"/>
<rect x="626.15" y="109.52" width="3.55" height="4.45" fill="#000"/>
<rect x="621.3" y="115.27" width="3.55" height="4.45" fill="#000"/>
<rect x="626.15" y="115.27" width="3.55" height="4.45" fill="#000"/>
<rect x="621.3" y="121.02" width="3.55" height="4.45" fill="#000"/>
<rect x="626.15" y="121.02" width="3.55" height="4.45" fill="#000"/>
<rect x="621.3" y="126.76" width="3.55" height="4.45" fill="#000"/>
<rect x="626.15" y="126.76" width="3.55" height="4.45" fill="#000"/>
<rect x="621.3" y="132.51" width="3.55" height="4.45" fill="#000"/>
<rect x="626.15" y="132.51" width="3.55" height="4.45" fill="#000"/>
<rect x="621.3" y="138.25" width="3.55" height="4.45" fill="#000"/>
<rect x="626.15" y="138.25" width="3.55" height="4.45" fill="#000"/>
<rect x="644" y="156" width="13" height="20" fill="#000"/>
<rect x="645" y="157" width="11" height="18" fill="#fff"/>
<rect x="646.1" y="158.1" width="3.85" height="4.53" fill="#000"/>
<rect x="647.1" y="159.1" width="1.85" height="2.53" fill="#fff"/>
<rect x="651.05" y="158.1" width="3.85" height="4.53" fill="#000"/>
<rect x="646.1" y="163.73" width="3.85" height="4.53" fill="#000"/>
<rect x="651.05" y="163.73" width="3.85" height="4.53" fill="#000"/>
<rect x="646.1" y="169.37" width="3.85" height="4.53" fill="#000"/>
<rect x="651.05" y="169.37" width="3.85" height="4.53" fill="#000"/>
<rect x="695.3" y="41" width="6.7" height="68" fill="#000"/>
<path d="M701 54.5 H717.5 L717.5 54.5 V94.5 L717.5 94.5 H701" fill="#fff" stroke="#000" stroke-width="1"/>
<rect x="667" y="52" width="35" height="45" fill="#000"/>
<rect x="693" y="44" width="18" height="6" fill="#000"/>
<rect x="694" y="45" width="16" height="4" fill="#fff"/>
<rect x="695.3" y="43.5" width="6.7" height="7" fill="#000"/>
<rect x="693" y="98" width="18" height="6" fill="#000"/>
<rect x="694" y="99" width="16" height="4" fill="#fff"/>
<rect x="695.3" y="97.5" width="6.7" height="7" fill="#000"/>
<rect x="695.3" y="113" width="3.7" height="111.5" fill="#000"/>
<path d="M701 124.5 H714.5 L714.5 124.5 V210.5 L711.5 213.5 H701" fill="#fff" stroke="#000" stroke-width="1"/>
<rect x="671" y="124" width="28" height="90.5" fill="#000"/>
<rect x="691" y="115" width="18" height="6" fill="#000"/>
<rect x="692" y="116" width="16" height="4" fill="#fff"/>
<rect x="695.3" y="114.5" width="3.7" height="7" fill="#000"/>
<rect x="691" y="217" width="18" height="6" fill="#000"/>
<rect x="692" y="218" width="16" height="4" fill="#fff"/>
<rect x="695.3" y="216.5" width="3.7" height="7" fill="#000"/>
<rect x="700" y="113" width="2" height="112" fill="#000"/>
<rect x="695.3" y="251" width="6.7" height="68" fill="#000"/>
<path d="M701 264.5 H717.5 L717.5 264.5 V303.5 L717.5 303.5 H701" fill="#fff" stroke="#000" stroke-width="1"/>
<rect x="667" y="262" width="35" height="44.5" fill="#000"/>
<rect x="693" y="254" width="18.5" height="6.5" fill="#000"/>
<rect x="694" y="255" width="16.5" height="4.5" fill="#fff"/>
<rect x="695.3" y="253.5" width="6.7" height="7.5" fill="#000"/>
<rect x="693" y="308.5" width="18.5" height="6.5" fill="#000"/>
<rect x="694" y="309.5" width="16.5" height="4.5" fill="#fff"/>
<rect x="695.3" y="308" width="6.7" height="7.5" fill="#000"/>
<rect x="699.3" y="319" width="2.7" height="11" fill="#000"/>
<rect x="695.3" y="330" width="6.7" height="67.5" fill="#000"/>
<path d="M701 342.5 H714.5 L717.5 345.5 V379.5 L714.5 382.5 H701" fill="#fff" stroke="#000" stroke-width="1"/>
<rect x="667" y="341" width="35" height="44.5" fill="#000"/>
<rect x="693" y="333" width="18.5" height="5.5" fill="#000"/>
<rect x="694" y="334" width="16.5" height="3.5" fill="#fff"/>
<rect x="695.3" y="332.5" width="6.7" height="6.5" fill="#000"/>
<rect x="693" y="387" width="18.5" height="6" fill="#000"/>
<rect x="694" y="388" width="16.5" height="4" fill="#fff"/>
<rect x="695.3" y="386.5" width="6.7" height="7" fill="#000"/>
<rect x="694" y="400.5" width="8" height="97.5" fill="#000"/>
<rect x="699.4" y="497" width="2.6" height="52" fill="#000"/>
<rect x="661.5" y="401" width="33" height="39.5" fill="#fff" stroke="#000" stroke-width="1"/>
<polygon points="700,441 700,444 694.3,450 694.3,451 670.3,451 670.3,488.3 694.3,488.3 694.3,490 700,495.5 700,498 702,498 702,441" fill="#000"/>
<polygon points="694,441.2 699.4,441.2 699.4,444.5 694,450" fill="#fff"/>
<polygon points="694,490 699.4,495.5 699.4,497.5 694,497.5" fill="#fff"/>
<rect x="667.7" y="461" width="2.8" height="17" fill="#000"/>
<rect x="663.5" y="460.5" width="4.5" height="7.5" fill="#fff" stroke="#000" stroke-width="1"/>
<rect x="663.5" y="471" width="4.5" height="7.5" fill="#fff" stroke="#000" stroke-width="1"/>
<rect x="672" y="505" width="37" height="30" fill="#000"/>
<rect x="695" y="497.5" width="7" height="45.5" fill="#000"/>
<rect x="695" y="497.5" width="4.4" height="7.5" fill="#fff"/>
<rect x="63.5" y="160.5" width="92" height="7" fill="#fff" stroke="#000" stroke-width="1"/>
<polygon points="156,160.5 160,163.5 160,168 156,168" fill="#000"/>
<rect x="73.5" y="167.5" width="94.5" height="94" fill="#000"/>
<rect x="91" y="187" width="57.7" height="57" fill="#fff"/>
<path d="M76 172.7h2.1v2.1h-2.1zM81.34 172.7h2.1v2.1h-2.1zM86.68 172.7h2.1v2.1h-2.1zM92.02 172.7h2.1v2.1h-2.1zM97.36 172.7h2.1v2.1h-2.1zM102.7 172.7h2.1v2.1h-2.1zM108.04 172.7h2.1v2.1h-2.1zM113.38 172.7h2.1v2.1h-2.1zM118.72 172.7h2.1v2.1h-2.1zM124.06 172.7h2.1v2.1h-2.1zM129.4 172.7h2.1v2.1h-2.1zM134.74 172.7h2.1v2.1h-2.1zM140.08 172.7h2.1v2.1h-2.1zM145.42 172.7h2.1v2.1h-2.1zM150.76 172.7h2.1v2.1h-2.1zM156.1 172.7h2.1v2.1h-2.1zM161.44 172.7h2.1v2.1h-2.1zM76 177.92h2.1v2.1h-2.1zM81.34 177.92h2.1v2.1h-2.1zM86.68 177.92h2.1v2.1h-2.1zM92.02 177.92h2.1v2.1h-2.1zM97.36 177.92h2.1v2.1h-2.1zM102.7 177.92h2.1v2.1h-2.1zM108.04 177.92h2.1v2.1h-2.1zM113.38 177.92h2.1v2.1h-2.1zM118.72 177.92h2.1v2.1h-2.1zM124.06 177.92h2.1v2.1h-2.1zM129.4 177.92h2.1v2.1h-2.1zM134.74 177.92h2.1v2.1h-2.1zM140.08 177.92h2.1v2.1h-2.1zM145.42 177.92h2.1v2.1h-2.1zM150.76 177.92h2.1v2.1h-2.1zM156.1 177.92h2.1v2.1h-2.1zM161.44 177.92h2.1v2.1h-2.1zM76 183.14h2.1v2.1h-2.1zM81.34 183.14h2.1v2.1h-2.1zM86.68 183.14h2.1v2.1h-2.1zM92.02 183.14h2.1v2.1h-2.1zM97.36 183.14h2.1v2.1h-2.1zM102.7 183.14h2.1v2.1h-2.1zM108.04 183.14h2.1v2.1h-2.1zM113.38 183.14h2.1v2.1h-2.1zM118.72 183.14h2.1v2.1h-2.1zM124.06 183.14h2.1v2.1h-2.1zM129.4 183.14h2.1v2.1h-2.1zM134.74 183.14h2.1v2.1h-2.1zM140.08 183.14h2.1v2.1h-2.1zM145.42 183.14h2.1v2.1h-2.1zM150.76 183.14h2.1v2.1h-2.1zM156.1 183.14h2.1v2.1h-2.1zM161.44 183.14h2.1v2.1h-2.1zM76 188.36h2.1v2.1h-2.1zM81.34 188.36h2.1v2.1h-2.1zM86.68 188.36h2.1v2.1h-2.1zM150.76 188.36h2.1v2.1h-2.1zM156.1 188.36h2.1v2.1h-2.1zM161.44 188.36h2.1v2.1h-2.1zM76 193.58h2.1v2.1h-2.1zM81.34 193.58h2.1v2.1h-2.1zM86.68 193.58h2.1v2.1h-2.1zM150.76 193.58h2.1v2.1h-2.1zM156.1 193.58h2.1v2.1h-2.1zM161.44 193.58h2.1v2.1h-2.1zM76 198.8h2.1v2.1h-2.1zM81.34 198.8h2.1v2.1h-2.1zM86.68 198.8h2.1v2.1h-2.1zM150.76 198.8h2.1v2.1h-2.1zM156.1 198.8h2.1v2.1h-2.1zM161.44 198.8h2.1v2.1h-2.1zM76 204.02h2.1v2.1h-2.1zM81.34 204.02h2.1v2.1h-2.1zM86.68 204.02h2.1v2.1h-2.1zM150.76 204.02h2.1v2.1h-2.1zM156.1 204.02h2.1v2.1h-2.1zM161.44 204.02h2.1v2.1h-2.1zM76 209.24h2.1v2.1h-2.1zM81.34 209.24h2.1v2.1h-2.1zM86.68 209.24h2.1v2.1h-2.1zM150.76 209.24h2.1v2.1h-2.1zM156.1 209.24h2.1v2.1h-2.1zM161.44 209.24h2.1v2.1h-2.1zM76 214.46h2.1v2.1h-2.1zM81.34 214.46h2.1v2.1h-2.1zM86.68 214.46h2.1v2.1h-2.1zM150.76 214.46h2.1v2.1h-2.1zM156.1 214.46h2.1v2.1h-2.1zM161.44 214.46h2.1v2.1h-2.1zM76 219.68h2.1v2.1h-2.1zM81.34 219.68h2.1v2.1h-2.1zM86.68 219.68h2.1v2.1h-2.1zM150.76 219.68h2.1v2.1h-2.1zM156.1 219.68h2.1v2.1h-2.1zM161.44 219.68h2.1v2.1h-2.1zM76 224.9h2.1v2.1h-2.1zM81.34 224.9h2.1v2.1h-2.1zM86.68 224.9h2.1v2.1h-2.1zM150.76 224.9h2.1v2.1h-2.1zM156.1 224.9h2.1v2.1h-2.1zM161.44 224.9h2.1v2.1h-2.1zM76 230.12h2.1v2.1h-2.1zM81.34 230.12h2.1v2.1h-2.1zM86.68 230.12h2.1v2.1h-2.1zM150.76 230.12h2.1v2.1h-2.1zM156.1 230.12h2.1v2.1h-2.1zM161.44 230.12h2.1v2.1h-2.1zM76 235.34h2.1v2.1h-2.1zM81.34 235.34h2.1v2.1h-2.1zM86.68 235.34h2.1v2.1h-2.1zM150.76 235.34h2.1v2.1h-2.1zM156.1 235.34h2.1v2.1h-2.1zM161.44 235.34h2.1v2.1h-2.1zM76 240.56h2.1v2.1h-2.1zM81.34 240.56h2.1v2.1h-2.1zM86.68 240.56h2.1v2.1h-2.1zM150.76 240.56h2.1v2.1h-2.1zM156.1 240.56h2.1v2.1h-2.1zM161.44 240.56h2.1v2.1h-2.1zM76 245.78h2.1v2.1h-2.1zM81.34 245.78h2.1v2.1h-2.1zM86.68 245.78h2.1v2.1h-2.1zM92.02 245.78h2.1v2.1h-2.1zM97.36 245.78h2.1v2.1h-2.1zM102.7 245.78h2.1v2.1h-2.1zM108.04 245.78h2.1v2.1h-2.1zM113.38 245.78h2.1v2.1h-2.1zM118.72 245.78h2.1v2.1h-2.1zM124.06 245.78h2.1v2.1h-2.1zM129.4 245.78h2.1v2.1h-2.1zM134.74 245.78h2.1v2.1h-2.1zM140.08 245.78h2.1v2.1h-2.1zM145.42 245.78h2.1v2.1h-2.1zM150.76 245.78h2.1v2.1h-2.1zM156.1 245.78h2.1v2.1h-2.1zM161.44 245.78h2.1v2.1h-2.1zM76 251h2.1v2.1h-2.1zM81.34 251h2.1v2.1h-2.1zM86.68 251h2.1v2.1h-2.1zM92.02 251h2.1v2.1h-2.1zM97.36 251h2.1v2.1h-2.1zM102.7 251h2.1v2.1h-2.1zM108.04 251h2.1v2.1h-2.1zM113.38 251h2.1v2.1h-2.1zM118.72 251h2.1v2.1h-2.1zM124.06 251h2.1v2.1h-2.1zM129.4 251h2.1v2.1h-2.1zM134.74 251h2.1v2.1h-2.1zM140.08 251h2.1v2.1h-2.1zM145.42 251h2.1v2.1h-2.1zM150.76 251h2.1v2.1h-2.1zM156.1 251h2.1v2.1h-2.1zM161.44 251h2.1v2.1h-2.1zM76 256.22h2.1v2.1h-2.1zM81.34 256.22h2.1v2.1h-2.1zM86.68 256.22h2.1v2.1h-2.1zM92.02 256.22h2.1v2.1h-2.1zM97.36 256.22h2.1v2.1h-2.1zM102.7 256.22h2.1v2.1h-2.1zM108.04 256.22h2.1v2.1h-2.1zM113.38 256.22h2.1v2.1h-2.1zM118.72 256.22h2.1v2.1h-2.1zM124.06 256.22h2.1v2.1h-2.1zM129.4 256.22h2.1v2.1h-2.1zM134.74 256.22h2.1v2.1h-2.1zM140.08 256.22h2.1v2.1h-2.1zM145.42 256.22h2.1v2.1h-2.1zM150.76 256.22h2.1v2.1h-2.1zM156.1 256.22h2.1v2.1h-2.1zM161.44 256.22h2.1v2.1h-2.1z" fill="#fff"/>
<rect x="56" y="169.5" width="18" height="94.5" fill="#000"/>
<rect x="57" y="170.5" width="1.3" height="92.5" fill="#fff"/>
<rect x="71" y="170.5" width="1" height="92.5" fill="#fff"/>
<rect x="73" y="170.5" width="1" height="90.5" fill="#fff"/>
<rect x="61" y="208" width="8.7" height="23.5" fill="#fff"/>
<line x1="61" y1="210" x2="69.7" y2="210" stroke="#000" stroke-width="0.8"/>
<line x1="65.3" y1="210" x2="65.3" y2="231.5" stroke="#000" stroke-width="0.8"/>
<rect x="69.5" y="261.5" width="20.5" height="5.5" fill="#000" rx="1.5"/>
<rect x="76" y="264.5" width="6" height="1" fill="#fff"/>
<text transform="translate(60.6 234.5) rotate(90)" font-size="11.5" fill="#fff" style="stroke:#fff" letter-spacing="0.6">AMP</text>
<rect x="149" y="277" width="19" height="8" fill="#000"/>
<rect x="150" y="278" width="17" height="6" fill="#fff"/>
<rect x="150" y="278" width="5" height="6" fill="#000"/>
<rect x="150" y="278" width="4" height="3" fill="#fff"/>
<rect x="151" y="278" width="3" height="2" fill="#000"/>
<rect x="156" y="278" width="5" height="6" fill="#000"/>
<rect x="162" y="279" width="4" height="4" fill="#000"/>
<rect x="163" y="280" width="2" height="2" fill="#fff"/>
<rect x="149" y="285" width="19" height="8" fill="#000"/>
<rect x="150" y="286" width="17" height="6" fill="#fff"/>
<rect x="150" y="286" width="5" height="6" fill="#000"/>
<rect x="150" y="286" width="4" height="3" fill="#fff"/>
<rect x="151" y="286" width="3" height="2" fill="#000"/>
<rect x="156" y="286" width="5" height="6" fill="#000"/>
<rect x="162" y="287" width="4" height="4" fill="#000"/>
<rect x="163" y="288" width="2" height="2" fill="#fff"/>
<rect x="149" y="295" width="19" height="8" fill="#000"/>
<rect x="150" y="296" width="17" height="6" fill="#fff"/>
<rect x="150" y="296" width="5" height="6" fill="#000"/>
<rect x="150" y="296" width="4" height="3" fill="#fff"/>
<rect x="151" y="296" width="3" height="2" fill="#000"/>
<rect x="156" y="296" width="5" height="6" fill="#000"/>
<rect x="162" y="297" width="4" height="4" fill="#000"/>
<rect x="163" y="298" width="2" height="2" fill="#fff"/>
<rect x="149" y="303" width="19" height="8" fill="#000"/>
<rect x="150" y="304" width="17" height="6" fill="#fff"/>
<rect x="150" y="304" width="5" height="6" fill="#000"/>
<rect x="150" y="304" width="4" height="3" fill="#fff"/>
<rect x="151" y="304" width="3" height="2" fill="#000"/>
<rect x="156" y="304" width="5" height="6" fill="#000"/>
<rect x="162" y="305" width="4" height="4" fill="#000"/>
<rect x="163" y="306" width="2" height="2" fill="#fff"/>
<rect x="147" y="276" width="1" height="38" fill="#000"/>
<line x1="147" y1="313.5" x2="170" y2="313.5" stroke="#000" stroke-width="1"/>
<line x1="147" y1="276" x2="165" y2="276" stroke="#000" stroke-width="1"/>
<line x1="169.5" y1="275.5" x2="169.5" y2="292" stroke="#000" stroke-width="1"/>
<line x1="169.5" y1="295" x2="169.5" y2="314" stroke="#000" stroke-width="1"/>
<rect x="136" y="285" width="7" height="20" fill="#000"/>
<rect x="137" y="286" width="5" height="18" fill="#fff"/>
<rect x="138" y="287" width="3" height="3.83" fill="#000"/>
<rect x="139" y="288" width="1" height="1.83" fill="#fff"/>
<rect x="137" y="291.83" width="5" height="3.48" fill="#000"/>
<rect x="137" y="298.17" width="5" height="3.48" fill="#000"/>
<rect x="67" y="307" width="49.3" height="28" fill="#000" rx="2.5"/>
<rect x="142" y="346" width="8" height="19" fill="#000"/>
<rect x="143" y="347" width="6" height="6" fill="#fff"/>
<rect x="144" y="348" width="4" height="3.5" fill="#000"/>
<rect x="145" y="349" width="2" height="1.5" fill="#fff"/>
<rect x="143" y="357.5" width="5" height="1" fill="#fff"/>
<rect x="143" y="357.5" width="1" height="6.5" fill="#fff"/>
<rect x="132" y="370" width="7" height="19" fill="#000"/>
<rect x="133" y="371" width="5" height="17" fill="#fff"/>
<rect x="134" y="372" width="3" height="3.5" fill="#000"/>
<rect x="135" y="373" width="1" height="1.5" fill="#fff"/>
<rect x="133" y="376.5" width="5" height="3.3" fill="#000"/>
<rect x="133" y="382.5" width="5" height="3.3" fill="#000"/>
<rect x="142" y="370" width="8" height="19" fill="#000"/>
<rect x="144" y="372" width="4" height="3.5" fill="#fff"/>
<rect x="143" y="376" width="6" height="1" fill="#fff"/>
<rect x="143" y="382" width="6" height="1" fill="#fff"/>
<rect x="143" y="388" width="6" height="1" fill="#fff"/>
<rect x="193" y="292" width="7" height="20" fill="#000"/>
<rect x="194" y="293" width="5" height="18" fill="#fff"/>
<rect x="195" y="294" width="3" height="3.83" fill="#000"/>
<rect x="196" y="295" width="1" height="1.83" fill="#fff"/>
<rect x="194" y="298.83" width="5" height="3.48" fill="#000"/>
<rect x="194" y="305.17" width="5" height="3.48" fill="#000"/>
<rect x="243" y="314" width="7" height="19" fill="#000"/>
<rect x="244" y="315" width="5" height="17" fill="#fff"/>
<rect x="245" y="316" width="3" height="3.5" fill="#000"/>
<rect x="246" y="317" width="1" height="1.5" fill="#fff"/>
<rect x="244" y="320.5" width="5" height="3.3" fill="#000"/>
<rect x="244" y="326.5" width="5" height="3.3" fill="#000"/>
<rect x="270.5" y="335.5" width="7" height="13.5" fill="#fff" stroke="#000" stroke-width="1"/>
<line x1="271" y1="339.5" x2="276" y2="339.5" stroke="#000" stroke-width="1"/>
<line x1="271" y1="344.5" x2="276" y2="344.5" stroke="#000" stroke-width="1"/>
<line x1="272.5" y1="336" x2="272.5" y2="349" stroke="#000" stroke-width="1"/>
<rect x="198" y="348" width="7" height="14.6" fill="#000"/>
<rect x="199" y="353.5" width="5" height="2.5" fill="#fff"/>
<rect x="199" y="360" width="5" height="1.5" fill="#fff"/>
<rect x="277" y="411" width="7" height="19" fill="#000"/>
<rect x="278" y="412" width="5" height="6" fill="#fff"/>
<rect x="279" y="413" width="3" height="3.5" fill="#000"/>
<rect x="280" y="414" width="1" height="1.5" fill="#fff"/>
<rect x="278" y="422.5" width="4" height="1" fill="#fff"/>
<rect x="278" y="422.5" width="1" height="6.5" fill="#fff"/>
<rect x="294" y="275" width="85.5" height="24" fill="#000"/>
<rect x="296.3" y="276.5" width="3.6" height="4.5" fill="#fff"/>
<rect x="296.3" y="293" width="3.6" height="4.5" fill="#fff"/>
<rect x="301.8" y="276.5" width="3.6" height="4.5" fill="#fff"/>
<rect x="301.8" y="293" width="3.6" height="4.5" fill="#fff"/>
<rect x="307.3" y="276.5" width="3.6" height="4.5" fill="#fff"/>
<rect x="307.3" y="293" width="3.6" height="4.5" fill="#fff"/>
<rect x="312.8" y="276.5" width="3.6" height="4.5" fill="#fff"/>
<rect x="312.8" y="293" width="3.6" height="4.5" fill="#fff"/>
<rect x="318.3" y="276.5" width="3.6" height="4.5" fill="#fff"/>
<rect x="318.3" y="293" width="3.6" height="4.5" fill="#fff"/>
<rect x="323.8" y="276.5" width="3.6" height="4.5" fill="#fff"/>
<rect x="323.8" y="293" width="3.6" height="4.5" fill="#fff"/>
<rect x="329.3" y="276.5" width="3.6" height="4.5" fill="#fff"/>
<rect x="329.3" y="293" width="3.6" height="4.5" fill="#fff"/>
<rect x="334.8" y="276.5" width="3.6" height="4.5" fill="#fff"/>
<rect x="334.8" y="293" width="3.6" height="4.5" fill="#fff"/>
<rect x="340.3" y="276.5" width="3.6" height="4.5" fill="#fff"/>
<rect x="340.3" y="293" width="3.6" height="4.5" fill="#fff"/>
<rect x="345.8" y="276.5" width="3.6" height="4.5" fill="#fff"/>
<rect x="345.8" y="293" width="3.6" height="4.5" fill="#fff"/>
<rect x="351.3" y="276.5" width="3.6" height="4.5" fill="#fff"/>
<rect x="351.3" y="293" width="3.6" height="4.5" fill="#fff"/>
<rect x="356.8" y="276.5" width="3.6" height="4.5" fill="#fff"/>
<rect x="356.8" y="293" width="3.6" height="4.5" fill="#fff"/>
<rect x="362.3" y="276.5" width="3.6" height="4.5" fill="#fff"/>
<rect x="362.3" y="293" width="3.6" height="4.5" fill="#fff"/>
<rect x="367.8" y="276.5" width="3.6" height="4.5" fill="#fff"/>
<rect x="367.8" y="293" width="3.6" height="4.5" fill="#fff"/>
<rect x="373.3" y="276.5" width="3.6" height="4.5" fill="#fff"/>
<rect x="373.3" y="293" width="3.6" height="4.5" fill="#fff"/>
<rect x="298.8" y="284.6" width="35.45" height="4.3" fill="#fff"/>
<rect x="339.25" y="284.6" width="35.25" height="4.3" fill="#fff"/>
<rect x="377" y="285" width="2.5" height="3.5" fill="#fff" rx="1"/>
<rect x="266" y="307" width="342" height="20.3" fill="#000"/>
<rect x="278" y="314" width="317" height="6" fill="#fff"/>
<rect x="421.8" y="309.7" width="29.2" height="13.8" fill="#fff"/>
<text transform="translate(422.96 320.5) scale(0.85 1)" font-size="14" fill="#000" letter-spacing="3.2">SL1</text>
<rect x="292" y="343" width="13" height="119" fill="#000"/>
<rect x="293" y="344" width="11" height="117" fill="#fff"/>
<rect x="294" y="345" width="4" height="3.83" fill="#000"/>
<rect x="295" y="346" width="2" height="1.83" fill="#fff"/>
<rect x="299" y="345" width="4" height="3.83" fill="#000"/>
<rect x="294" y="349.83" width="4" height="3.83" fill="#000"/>
<rect x="299" y="349.83" width="4" height="3.83" fill="#000"/>
<rect x="294" y="354.67" width="4" height="3.83" fill="#000"/>
<rect x="299" y="354.67" width="4" height="3.83" fill="#000"/>
<rect x="294" y="359.5" width="4" height="3.83" fill="#000"/>
<rect x="299" y="359.5" width="4" height="3.83" fill="#000"/>
<rect x="294" y="364.33" width="4" height="3.83" fill="#000"/>
<rect x="299" y="364.33" width="4" height="3.83" fill="#000"/>
<rect x="294" y="369.17" width="4" height="3.83" fill="#000"/>
<rect x="299" y="369.17" width="4" height="3.83" fill="#000"/>
<rect x="294" y="374" width="4" height="3.83" fill="#000"/>
<rect x="299" y="374" width="4" height="3.83" fill="#000"/>
<rect x="294" y="378.83" width="4" height="3.83" fill="#000"/>
<rect x="299" y="378.83" width="4" height="3.83" fill="#000"/>
<rect x="294" y="383.67" width="4" height="3.83" fill="#000"/>
<rect x="299" y="383.67" width="4" height="3.83" fill="#000"/>
<rect x="294" y="388.5" width="4" height="3.83" fill="#000"/>
<rect x="299" y="388.5" width="4" height="3.83" fill="#000"/>
<rect x="294" y="393.33" width="4" height="3.83" fill="#000"/>
<rect x="299" y="393.33" width="4" height="3.83" fill="#000"/>
<rect x="294" y="398.17" width="4" height="3.83" fill="#000"/>
<rect x="299" y="398.17" width="4" height="3.83" fill="#000"/>
<rect x="294" y="403" width="4" height="3.83" fill="#000"/>
<rect x="299" y="403" width="4" height="3.83" fill="#000"/>
<rect x="294" y="407.83" width="4" height="3.83" fill="#000"/>
<rect x="299" y="407.83" width="4" height="3.83" fill="#000"/>
<rect x="294" y="412.67" width="4" height="3.83" fill="#000"/>
<rect x="299" y="412.67" width="4" height="3.83" fill="#000"/>
<rect x="294" y="417.5" width="4" height="3.83" fill="#000"/>
<rect x="299" y="417.5" width="4" height="3.83" fill="#000"/>
<rect x="294" y="422.33" width="4" height="3.83" fill="#000"/>
<rect x="299" y="422.33" width="4" height="3.83" fill="#000"/>
<rect x="294" y="427.17" width="4" height="3.83" fill="#000"/>
<rect x="299" y="427.17" width="4" height="3.83" fill="#000"/>
<rect x="294" y="432" width="4" height="3.83" fill="#000"/>
<rect x="299" y="432" width="4" height="3.83" fill="#000"/>
<rect x="294" y="436.83" width="4" height="3.83" fill="#000"/>
<rect x="299" y="436.83" width="4" height="3.83" fill="#000"/>
<rect x="294" y="441.67" width="4" height="3.83" fill="#000"/>
<rect x="299" y="441.67" width="4" height="3.83" fill="#000"/>
<rect x="294" y="446.5" width="4" height="3.83" fill="#000"/>
<rect x="299" y="446.5" width="4" height="3.83" fill="#000"/>
<rect x="294" y="451.33" width="4" height="3.83" fill="#000"/>
<rect x="299" y="451.33" width="4" height="3.83" fill="#000"/>
<rect x="294" y="456.17" width="4" height="3.83" fill="#000"/>
<rect x="299" y="456.17" width="4" height="3.83" fill="#000"/>
<rect x="314" y="343" width="13" height="119" fill="#000"/>
<rect x="315" y="344" width="11" height="117" fill="#fff"/>
<rect x="316" y="345" width="4" height="3.83" fill="#000"/>
<rect x="317" y="346" width="2" height="1.83" fill="#fff"/>
<rect x="321" y="345" width="4" height="3.83" fill="#000"/>
<rect x="316" y="349.83" width="4" height="3.83" fill="#000"/>
<rect x="321" y="349.83" width="4" height="3.83" fill="#000"/>
<rect x="316" y="354.67" width="4" height="3.83" fill="#000"/>
<rect x="321" y="354.67" width="4" height="3.83" fill="#000"/>
<rect x="316" y="359.5" width="4" height="3.83" fill="#000"/>
<rect x="321" y="359.5" width="4" height="3.83" fill="#000"/>
<rect x="316" y="364.33" width="4" height="3.83" fill="#000"/>
<rect x="321" y="364.33" width="4" height="3.83" fill="#000"/>
<rect x="316" y="369.17" width="4" height="3.83" fill="#000"/>
<rect x="321" y="369.17" width="4" height="3.83" fill="#000"/>
<rect x="316" y="374" width="4" height="3.83" fill="#000"/>
<rect x="321" y="374" width="4" height="3.83" fill="#000"/>
<rect x="316" y="378.83" width="4" height="3.83" fill="#000"/>
<rect x="321" y="378.83" width="4" height="3.83" fill="#000"/>
<rect x="316" y="383.67" width="4" height="3.83" fill="#000"/>
<rect x="321" y="383.67" width="4" height="3.83" fill="#000"/>
<rect x="316" y="388.5" width="4" height="3.83" fill="#000"/>
<rect x="321" y="388.5" width="4" height="3.83" fill="#000"/>
<rect x="316" y="393.33" width="4" height="3.83" fill="#000"/>
<rect x="321" y="393.33" width="4" height="3.83" fill="#000"/>
<rect x="316" y="398.17" width="4" height="3.83" fill="#000"/>
<rect x="321" y="398.17" width="4" height="3.83" fill="#000"/>
<rect x="316" y="403" width="4" height="3.83" fill="#000"/>
<rect x="321" y="403" width="4" height="3.83" fill="#000"/>
<rect x="316" y="407.83" width="4" height="3.83" fill="#000"/>
<rect x="321" y="407.83" width="4" height="3.83" fill="#000"/>
<rect x="316" y="412.67" width="4" height="3.83" fill="#000"/>
<rect x="321" y="412.67" width="4" height="3.83" fill="#000"/>
<rect x="316" y="417.5" width="4" height="3.83" fill="#000"/>
<rect x="321" y="417.5" width="4" height="3.83" fill="#000"/>
<rect x="316" y="422.33" width="4" height="3.83" fill="#000"/>
<rect x="321" y="422.33" width="4" height="3.83" fill="#000"/>
<rect x="316" y="427.17" width="4" height="3.83" fill="#000"/>
<rect x="321" y="427.17" width="4" height="3.83" fill="#000"/>
<rect x="316" y="432" width="4" height="3.83" fill="#000"/>
<rect x="321" y="432" width="4" height="3.83" fill="#000"/>
<rect x="316" y="436.83" width="4" height="3.83" fill="#000"/>
<rect x="321" y="436.83" width="4" height="3.83" fill="#000"/>
<rect x="316" y="441.67" width="4" height="3.83" fill="#000"/>
<rect x="321" y="441.67" width="4" height="3.83" fill="#000"/>
<rect x="316" y="446.5" width="4" height="3.83" fill="#000"/>
<rect x="321" y="446.5" width="4" height="3.83" fill="#000"/>
<rect x="316" y="451.33" width="4" height="3.83" fill="#000"/>
<rect x="321" y="451.33" width="4" height="3.83" fill="#000"/>
<rect x="316" y="456.17" width="4" height="3.83" fill="#000"/>
<rect x="321" y="456.17" width="4" height="3.83" fill="#000"/>
<rect x="334" y="343" width="13" height="102" fill="#000"/>
<rect x="335" y="344" width="11" height="100" fill="#fff"/>
<rect x="336" y="345" width="4" height="3.71" fill="#000"/>
<rect x="337" y="346" width="2" height="1.71" fill="#fff"/>
<rect x="341" y="345" width="4" height="3.71" fill="#000"/>
<rect x="336" y="349.71" width="4" height="3.71" fill="#000"/>
<rect x="341" y="349.71" width="4" height="3.71" fill="#000"/>
<rect x="336" y="354.43" width="4" height="3.71" fill="#000"/>
<rect x="341" y="354.43" width="4" height="3.71" fill="#000"/>
<rect x="336" y="359.14" width="4" height="3.71" fill="#000"/>
<rect x="341" y="359.14" width="4" height="3.71" fill="#000"/>
<rect x="336" y="363.86" width="4" height="3.71" fill="#000"/>
<rect x="341" y="363.86" width="4" height="3.71" fill="#000"/>
<rect x="336" y="368.57" width="4" height="3.71" fill="#000"/>
<rect x="341" y="368.57" width="4" height="3.71" fill="#000"/>
<rect x="336" y="373.29" width="4" height="3.71" fill="#000"/>
<rect x="341" y="373.29" width="4" height="3.71" fill="#000"/>
<rect x="336" y="378" width="4" height="3.71" fill="#000"/>
<rect x="341" y="378" width="4" height="3.71" fill="#000"/>
<rect x="336" y="382.71" width="4" height="3.71" fill="#000"/>
<rect x="341" y="382.71" width="4" height="3.71" fill="#000"/>
<rect x="336" y="387.43" width="4" height="3.71" fill="#000"/>
<rect x="341" y="387.43" width="4" height="3.71" fill="#000"/>
<rect x="336" y="392.14" width="4" height="3.71" fill="#000"/>
<rect x="341" y="392.14" width="4" height="3.71" fill="#000"/>
<rect x="336" y="396.86" width="4" height="3.71" fill="#000"/>
<rect x="341" y="396.86" width="4" height="3.71" fill="#000"/>
<rect x="336" y="401.57" width="4" height="3.71" fill="#000"/>
<rect x="341" y="401.57" width="4" height="3.71" fill="#000"/>
<rect x="336" y="406.29" width="4" height="3.71" fill="#000"/>
<rect x="341" y="406.29" width="4" height="3.71" fill="#000"/>
<rect x="336" y="411" width="4" height="3.71" fill="#000"/>
<rect x="341" y="411" width="4" height="3.71" fill="#000"/>
<rect x="336" y="415.71" width="4" height="3.71" fill="#000"/>
<rect x="341" y="415.71" width="4" height="3.71" fill="#000"/>
<rect x="336" y="420.43" width="4" height="3.71" fill="#000"/>
<rect x="341" y="420.43" width="4" height="3.71" fill="#000"/>
<rect x="336" y="425.14" width="4" height="3.71" fill="#000"/>
<rect x="341" y="425.14" width="4" height="3.71" fill="#000"/>
<rect x="336" y="429.86" width="4" height="3.71" fill="#000"/>
<rect x="341" y="429.86" width="4" height="3.71" fill="#000"/>
<rect x="336" y="434.57" width="4" height="3.71" fill="#000"/>
<rect x="341" y="434.57" width="4" height="3.71" fill="#000"/>
<rect x="336" y="439.29" width="4" height="3.71" fill="#000"/>
<rect x="341" y="439.29" width="4" height="3.71" fill="#000"/>
<rect x="304.8" y="310.5" width="29.2" height="16.8" fill="#fff"/>
<line x1="304.8" y1="327.8" x2="334" y2="327.8" stroke="#000" stroke-width="1"/>
<polygon points="315.54,326 316.45,329.5 317.46,334.75 318.2,343.5 320.2,343.5 320.99,334.75 322.03,329.5 322.96,326" fill="#000" shape-rendering="geometricPrecision"/>
<polygon points="317.03,323.9 317.02,326 318.13,329.5 319.23,334.75 320.35,329.5 321.48,326 321.48,323.9" fill="#fff" shape-rendering="geometricPrecision"/>
<text transform="translate(305.9 321.8) scale(0.85 1)" font-size="14" fill="#000" letter-spacing="1.65">CN8</text>
<polygon points="344.5,176 401.5,176 406,180.5 406,237.5 401.5,242 344.5,242 340,237.5 340,180.5" fill="#000"/>
<rect x="350" y="176" width="1" height="2.7" fill="#fff"/>
<rect x="352.64" y="239.3" width="1" height="2.7" fill="#fff"/>
<rect x="340" y="189.96" width="2.7" height="1" fill="#fff"/>
<rect x="403.3" y="182.7" width="2.7" height="1" fill="#fff"/>
<rect x="352.7" y="176" width="1" height="2.7" fill="#fff"/>
<rect x="355.34" y="239.3" width="1" height="2.7" fill="#fff"/>
<rect x="340" y="192.66" width="2.7" height="1" fill="#fff"/>
<rect x="403.3" y="185.4" width="2.7" height="1" fill="#fff"/>
<rect x="355.4" y="176" width="1" height="2.7" fill="#fff"/>
<rect x="358.04" y="239.3" width="1" height="2.7" fill="#fff"/>
<rect x="340" y="195.36" width="2.7" height="1" fill="#fff"/>
<rect x="403.3" y="188.1" width="2.7" height="1" fill="#fff"/>
<rect x="367.16" y="176" width="1" height="2.7" fill="#fff"/>
<rect x="369.8" y="239.3" width="1" height="2.7" fill="#fff"/>
<rect x="340" y="207.12" width="2.7" height="1" fill="#fff"/>
<rect x="403.3" y="199.86" width="2.7" height="1" fill="#fff"/>
<rect x="369.86" y="176" width="1" height="2.7" fill="#fff"/>
<rect x="372.5" y="239.3" width="1" height="2.7" fill="#fff"/>
<rect x="340" y="209.82" width="2.7" height="1" fill="#fff"/>
<rect x="403.3" y="202.56" width="2.7" height="1" fill="#fff"/>
<rect x="372.56" y="176" width="1" height="2.7" fill="#fff"/>
<rect x="375.2" y="239.3" width="1" height="2.7" fill="#fff"/>
<rect x="340" y="212.52" width="2.7" height="1" fill="#fff"/>
<rect x="403.3" y="205.26" width="2.7" height="1" fill="#fff"/>
<rect x="382.97" y="176" width="1" height="2.7" fill="#fff"/>
<rect x="385.61" y="239.3" width="1" height="2.7" fill="#fff"/>
<rect x="340" y="222.93" width="2.7" height="1" fill="#fff"/>
<rect x="403.3" y="215.67" width="2.7" height="1" fill="#fff"/>
<rect x="385.67" y="176" width="1" height="2.7" fill="#fff"/>
<rect x="388.31" y="239.3" width="1" height="2.7" fill="#fff"/>
<rect x="340" y="225.63" width="2.7" height="1" fill="#fff"/>
<rect x="403.3" y="218.37" width="2.7" height="1" fill="#fff"/>
<rect x="388.37" y="176" width="1" height="2.7" fill="#fff"/>
<rect x="391.01" y="239.3" width="1" height="2.7" fill="#fff"/>
<rect x="340" y="228.33" width="2.7" height="1" fill="#fff"/>
<rect x="403.3" y="221.07" width="2.7" height="1" fill="#fff"/>
<rect x="391.07" y="176" width="1" height="2.7" fill="#fff"/>
<rect x="393.71" y="239.3" width="1" height="2.7" fill="#fff"/>
<rect x="340" y="231.03" width="2.7" height="1" fill="#fff"/>
<rect x="403.3" y="223.77" width="2.7" height="1" fill="#fff"/>
<polygon points="514.5,172 571.5,172 576,176.5 576,233.5 571.5,238 514.5,238 510,233.5 510,176.5" fill="#000"/>
<rect x="520" y="172" width="1" height="2.7" fill="#fff"/>
<rect x="522.64" y="235.3" width="1" height="2.7" fill="#fff"/>
<rect x="510" y="185.96" width="2.7" height="1" fill="#fff"/>
<rect x="573.3" y="178.7" width="2.7" height="1" fill="#fff"/>
<rect x="522.7" y="172" width="1" height="2.7" fill="#fff"/>
<rect x="525.34" y="235.3" width="1" height="2.7" fill="#fff"/>
<rect x="510" y="188.66" width="2.7" height="1" fill="#fff"/>
<rect x="573.3" y="181.4" width="2.7" height="1" fill="#fff"/>
<rect x="525.4" y="172" width="1" height="2.7" fill="#fff"/>
<rect x="528.04" y="235.3" width="1" height="2.7" fill="#fff"/>
<rect x="510" y="191.36" width="2.7" height="1" fill="#fff"/>
<rect x="573.3" y="184.1" width="2.7" height="1" fill="#fff"/>
<rect x="537.16" y="172" width="1" height="2.7" fill="#fff"/>
<rect x="539.8" y="235.3" width="1" height="2.7" fill="#fff"/>
<rect x="510" y="203.12" width="2.7" height="1" fill="#fff"/>
<rect x="573.3" y="195.86" width="2.7" height="1" fill="#fff"/>
<rect x="539.86" y="172" width="1" height="2.7" fill="#fff"/>
<rect x="542.5" y="235.3" width="1" height="2.7" fill="#fff"/>
<rect x="510" y="205.82" width="2.7" height="1" fill="#fff"/>
<rect x="573.3" y="198.56" width="2.7" height="1" fill="#fff"/>
<rect x="542.56" y="172" width="1" height="2.7" fill="#fff"/>
<rect x="545.2" y="235.3" width="1" height="2.7" fill="#fff"/>
<rect x="510" y="208.52" width="2.7" height="1" fill="#fff"/>
<rect x="573.3" y="201.26" width="2.7" height="1" fill="#fff"/>
<rect x="552.97" y="172" width="1" height="2.7" fill="#fff"/>
<rect x="555.61" y="235.3" width="1" height="2.7" fill="#fff"/>
<rect x="510" y="218.93" width="2.7" height="1" fill="#fff"/>
<rect x="573.3" y="211.67" width="2.7" height="1" fill="#fff"/>
<rect x="555.67" y="172" width="1" height="2.7" fill="#fff"/>
<rect x="558.31" y="235.3" width="1" height="2.7" fill="#fff"/>
<rect x="510" y="221.63" width="2.7" height="1" fill="#fff"/>
<rect x="573.3" y="214.37" width="2.7" height="1" fill="#fff"/>
<rect x="558.37" y="172" width="1" height="2.7" fill="#fff"/>
<rect x="561.01" y="235.3" width="1" height="2.7" fill="#fff"/>
<rect x="510" y="224.33" width="2.7" height="1" fill="#fff"/>
<rect x="573.3" y="217.07" width="2.7" height="1" fill="#fff"/>
<rect x="561.07" y="172" width="1" height="2.7" fill="#fff"/>
<rect x="563.71" y="235.3" width="1" height="2.7" fill="#fff"/>
<rect x="510" y="227.03" width="2.7" height="1" fill="#fff"/>
<rect x="573.3" y="219.77" width="2.7" height="1" fill="#fff"/>
<polygon points="394.5,348 427.5,348 432,352.5 432,409.5 427.5,414 394.5,414 390,409.5 390,352.5" fill="#000"/>
<rect x="395.2" y="348" width="1" height="2.7" fill="#fff"/>
<rect x="396.88" y="411.3" width="1" height="2.7" fill="#fff"/>
<rect x="390" y="361.96" width="2.7" height="1" fill="#fff"/>
<rect x="429.3" y="354.7" width="2.7" height="1" fill="#fff"/>
<rect x="397.9" y="348" width="1" height="2.7" fill="#fff"/>
<rect x="399.58" y="411.3" width="1" height="2.7" fill="#fff"/>
<rect x="390" y="364.66" width="2.7" height="1" fill="#fff"/>
<rect x="429.3" y="357.4" width="2.7" height="1" fill="#fff"/>
<rect x="400.6" y="348" width="1" height="2.7" fill="#fff"/>
<rect x="402.28" y="411.3" width="1" height="2.7" fill="#fff"/>
<rect x="390" y="367.36" width="2.7" height="1" fill="#fff"/>
<rect x="429.3" y="360.1" width="2.7" height="1" fill="#fff"/>
<rect x="406.12" y="348" width="1" height="2.7" fill="#fff"/>
<rect x="407.8" y="411.3" width="1" height="2.7" fill="#fff"/>
<rect x="390" y="379.12" width="2.7" height="1" fill="#fff"/>
<rect x="429.3" y="371.86" width="2.7" height="1" fill="#fff"/>
<rect x="408.82" y="348" width="1" height="2.7" fill="#fff"/>
<rect x="410.5" y="411.3" width="1" height="2.7" fill="#fff"/>
<rect x="390" y="381.82" width="2.7" height="1" fill="#fff"/>
<rect x="429.3" y="374.56" width="2.7" height="1" fill="#fff"/>
<rect x="411.52" y="348" width="1" height="2.7" fill="#fff"/>
<rect x="413.2" y="411.3" width="1" height="2.7" fill="#fff"/>
<rect x="390" y="384.52" width="2.7" height="1" fill="#fff"/>
<rect x="429.3" y="377.26" width="2.7" height="1" fill="#fff"/>
<rect x="415.69" y="348" width="1" height="2.7" fill="#fff"/>
<rect x="417.37" y="411.3" width="1" height="2.7" fill="#fff"/>
<rect x="390" y="394.93" width="2.7" height="1" fill="#fff"/>
<rect x="429.3" y="387.67" width="2.7" height="1" fill="#fff"/>
<rect x="418.39" y="348" width="1" height="2.7" fill="#fff"/>
<rect x="420.07" y="411.3" width="1" height="2.7" fill="#fff"/>
<rect x="390" y="397.63" width="2.7" height="1" fill="#fff"/>
<rect x="429.3" y="390.37" width="2.7" height="1" fill="#fff"/>
<rect x="421.09" y="348" width="1" height="2.7" fill="#fff"/>
<rect x="422.77" y="411.3" width="1" height="2.7" fill="#fff"/>
<rect x="390" y="400.33" width="2.7" height="1" fill="#fff"/>
<rect x="429.3" y="393.07" width="2.7" height="1" fill="#fff"/>
<rect x="423.79" y="348" width="1" height="2.7" fill="#fff"/>
<rect x="425.47" y="411.3" width="1" height="2.7" fill="#fff"/>
<rect x="390" y="403.03" width="2.7" height="1" fill="#fff"/>
<rect x="429.3" y="395.77" width="2.7" height="1" fill="#fff"/>
<polygon points="532,339 576,339 579,342 579,388.5 529,388.5 529,342" fill="#000"/>
<rect x="518" y="222" width="48" height="17" fill="#000" rx="2.5"/>
<rect x="519" y="223" width="46" height="14.6" fill="#fff" rx="1.5"/>
<text transform="translate(519.55 235) scale(0.85 1)" font-size="14.3" fill="#000" letter-spacing="1.83">VIDEO</text>
<rect x="459" y="214" width="7" height="19" fill="#000"/>
<rect x="460" y="215" width="5" height="17" fill="#fff"/>
<rect x="461" y="216" width="3" height="3.5" fill="#000"/>
<rect x="462" y="217" width="1" height="1.5" fill="#fff"/>
<rect x="460" y="220.5" width="5" height="3.3" fill="#000"/>
<rect x="460" y="226.5" width="5" height="3.3" fill="#000"/>
<polyline points="475,251.5 479.3,244.5 538.5,244.5 542.2,239.5 546,244.5 603,244.5 607.2,249.5" fill="none" stroke="#000" stroke-width="1" shape-rendering="geometricPrecision"/>
<rect x="479.5" y="248.7" width="59" height="24.8" fill="#000"/>
<rect x="481.8" y="250.2" width="3.7" height="4.5" fill="#fff"/>
<rect x="481.8" y="267.5" width="3.7" height="4.5" fill="#fff"/>
<rect x="487.4" y="250.2" width="3.7" height="4.5" fill="#fff"/>
<rect x="487.4" y="267.5" width="3.7" height="4.5" fill="#fff"/>
<rect x="493" y="250.2" width="3.7" height="4.5" fill="#fff"/>
<rect x="493" y="267.5" width="3.7" height="4.5" fill="#fff"/>
<rect x="498.6" y="250.2" width="3.7" height="4.5" fill="#fff"/>
<rect x="498.6" y="267.5" width="3.7" height="4.5" fill="#fff"/>
<rect x="504.2" y="250.2" width="3.7" height="4.5" fill="#fff"/>
<rect x="504.2" y="267.5" width="3.7" height="4.5" fill="#fff"/>
<rect x="509.8" y="250.2" width="3.7" height="4.5" fill="#fff"/>
<rect x="509.8" y="267.5" width="3.7" height="4.5" fill="#fff"/>
<rect x="515.4" y="250.2" width="3.7" height="4.5" fill="#fff"/>
<rect x="515.4" y="267.5" width="3.7" height="4.5" fill="#fff"/>
<rect x="521" y="250.2" width="3.7" height="4.5" fill="#fff"/>
<rect x="521" y="267.5" width="3.7" height="4.5" fill="#fff"/>
<rect x="526.6" y="250.2" width="3.7" height="4.5" fill="#fff"/>
<rect x="526.6" y="267.5" width="3.7" height="4.5" fill="#fff"/>
<rect x="532.2" y="250.2" width="3.7" height="4.5" fill="#fff"/>
<rect x="532.2" y="267.5" width="3.7" height="4.5" fill="#fff"/>
<rect x="484.3" y="258.7" width="22.2" height="4.3" fill="#fff"/>
<rect x="511.5" y="258.7" width="22" height="4.3" fill="#fff"/>
<rect x="536" y="259.1" width="2.5" height="3.5" fill="#fff" rx="1"/>
<rect x="479.5" y="273.5" width="59" height="25.3" fill="#000"/>
<rect x="481.8" y="275" width="3.7" height="4.5" fill="#fff"/>
<rect x="481.8" y="292.8" width="3.7" height="4.5" fill="#fff"/>
<rect x="487.4" y="275" width="3.7" height="4.5" fill="#fff"/>
<rect x="487.4" y="292.8" width="3.7" height="4.5" fill="#fff"/>
<rect x="493" y="275" width="3.7" height="4.5" fill="#fff"/>
<rect x="493" y="292.8" width="3.7" height="4.5" fill="#fff"/>
<rect x="498.6" y="275" width="3.7" height="4.5" fill="#fff"/>
<rect x="498.6" y="292.8" width="3.7" height="4.5" fill="#fff"/>
<rect x="504.2" y="275" width="3.7" height="4.5" fill="#fff"/>
<rect x="504.2" y="292.8" width="3.7" height="4.5" fill="#fff"/>
<rect x="509.8" y="275" width="3.7" height="4.5" fill="#fff"/>
<rect x="509.8" y="292.8" width="3.7" height="4.5" fill="#fff"/>
<rect x="515.4" y="275" width="3.7" height="4.5" fill="#fff"/>
<rect x="515.4" y="292.8" width="3.7" height="4.5" fill="#fff"/>
<rect x="521" y="275" width="3.7" height="4.5" fill="#fff"/>
<rect x="521" y="292.8" width="3.7" height="4.5" fill="#fff"/>
<rect x="526.6" y="275" width="3.7" height="4.5" fill="#fff"/>
<rect x="526.6" y="292.8" width="3.7" height="4.5" fill="#fff"/>
<rect x="532.2" y="275" width="3.7" height="4.5" fill="#fff"/>
<rect x="532.2" y="292.8" width="3.7" height="4.5" fill="#fff"/>
<rect x="484.3" y="283.75" width="22.2" height="4.3" fill="#fff"/>
<rect x="511.5" y="283.75" width="22" height="4.3" fill="#fff"/>
<rect x="536" y="284.15" width="2.5" height="3.5" fill="#fff" rx="1"/>
<rect x="480.5" y="265.3" width="57" height="14.7" fill="#fff"/>
<text transform="translate(481.02 277.5) scale(0.85 1)" font-size="14" fill="#000" letter-spacing="2.88">BANK 2</text>
<rect x="547" y="248.3" width="1.6" height="23.7" fill="#000"/>
<rect x="549.95" y="248.3" width="1.6" height="23.7" fill="#000"/>
<rect x="552.9" y="248.3" width="1.6" height="23.7" fill="#000"/>
<rect x="555.85" y="248.3" width="1.6" height="23.7" fill="#000"/>
<rect x="558.8" y="248.3" width="1.6" height="23.7" fill="#000"/>
<rect x="561.75" y="248.3" width="1.6" height="23.7" fill="#000"/>
<rect x="564.7" y="248.3" width="1.6" height="23.7" fill="#000"/>
<rect x="567.65" y="248.3" width="1.6" height="23.7" fill="#000"/>
<rect x="570.6" y="248.3" width="1.6" height="23.7" fill="#000"/>
<rect x="573.55" y="248.3" width="1.6" height="23.7" fill="#000"/>
<rect x="576.5" y="248.3" width="1.6" height="23.7" fill="#000"/>
<rect x="579.45" y="248.3" width="1.6" height="23.7" fill="#000"/>
<rect x="582.4" y="248.3" width="1.6" height="23.7" fill="#000"/>
<rect x="585.35" y="248.3" width="1.6" height="23.7" fill="#000"/>
<rect x="588.3" y="248.3" width="1.6" height="23.7" fill="#000"/>
<rect x="591.25" y="248.3" width="1.6" height="23.7" fill="#000"/>
<rect x="594.2" y="248.3" width="1.6" height="23.7" fill="#000"/>
<rect x="541.3" y="250.3" width="59.2" height="19.2" fill="#000" rx="4"/>
<rect x="543" y="251.5" width="55" height="15.5" fill="#fff" rx="3"/>
<text transform="translate(542.82 263.7) scale(0.85 1)" font-size="14" fill="#000" letter-spacing="2.73">BANK 0</text>
<rect x="541.3" y="273.7" width="59.2" height="25.1" fill="#000"/>
<rect x="542.5" y="277.5" width="56.8" height="19.5" fill="#fff"/>
<line x1="544" y1="276.3" x2="599" y2="276.3" stroke="#fff" stroke-width="1" stroke-dasharray="3 2"/>
<line x1="544" y1="295.6" x2="599" y2="295.6" stroke="#000" stroke-width="1" stroke-dasharray="3 2"/>
<text transform="translate(542.82 290.3) scale(0.85 1)" font-size="14" fill="#000" letter-spacing="2.76">BANK 1</text>
<rect x="34" y="425.7" width="85.5" height="103.3" fill="#000"/>
<rect x="37.3" y="428" width="3.55" height="4.9" fill="#fff"/>
<rect x="37.3" y="443.1" width="3.55" height="5.1" fill="#fff"/>
<rect x="43.05" y="428" width="3.55" height="4.9" fill="#fff"/>
<rect x="43.05" y="443.1" width="3.55" height="5.1" fill="#fff"/>
<rect x="48.8" y="428" width="3.55" height="4.9" fill="#fff"/>
<rect x="48.8" y="443.1" width="3.55" height="5.1" fill="#fff"/>
<rect x="54.55" y="428" width="3.55" height="4.9" fill="#fff"/>
<rect x="54.55" y="443.1" width="3.55" height="5.1" fill="#fff"/>
<rect x="60.3" y="428" width="3.55" height="4.9" fill="#fff"/>
<rect x="60.3" y="443.1" width="3.55" height="5.1" fill="#fff"/>
<rect x="66.05" y="428" width="3.55" height="4.9" fill="#fff"/>
<rect x="66.05" y="443.1" width="3.55" height="5.1" fill="#fff"/>
<rect x="71.8" y="428" width="3.55" height="4.9" fill="#fff"/>
<rect x="71.8" y="443.1" width="3.55" height="5.1" fill="#fff"/>
<rect x="77.55" y="428" width="3.55" height="4.9" fill="#fff"/>
<rect x="77.55" y="443.1" width="3.55" height="5.1" fill="#fff"/>
<rect x="83.3" y="428" width="3.55" height="4.9" fill="#fff"/>
<rect x="83.3" y="443.1" width="3.55" height="5.1" fill="#fff"/>
<rect x="89.05" y="428" width="3.55" height="4.9" fill="#fff"/>
<rect x="89.05" y="443.1" width="3.55" height="5.1" fill="#fff"/>
<rect x="94.8" y="428" width="3.55" height="4.9" fill="#fff"/>
<rect x="94.8" y="443.1" width="3.55" height="5.1" fill="#fff"/>
<rect x="100.55" y="428" width="3.55" height="4.9" fill="#fff"/>
<rect x="100.55" y="443.1" width="3.55" height="5.1" fill="#fff"/>
<rect x="106.3" y="428" width="3.55" height="4.9" fill="#fff"/>
<rect x="106.3" y="443.1" width="3.55" height="5.1" fill="#fff"/>
<rect x="112.05" y="428" width="3.55" height="4.9" fill="#fff"/>
<rect x="112.05" y="443.1" width="3.55" height="5.1" fill="#fff"/>
<rect x="38.5" y="434.7" width="34" height="5.2" fill="#fff"/>
<rect x="77" y="434.7" width="38" height="5.2" fill="#fff"/>
<rect x="115.9" y="435" width="4.6" height="4.6" fill="#fff" rx="1.8"/>
<rect x="37.3" y="453.82" width="3.55" height="4.9" fill="#fff"/>
<rect x="37.3" y="468.92" width="3.55" height="5.1" fill="#fff"/>
<rect x="43.05" y="453.82" width="3.55" height="4.9" fill="#fff"/>
<rect x="43.05" y="468.92" width="3.55" height="5.1" fill="#fff"/>
<rect x="48.8" y="453.82" width="3.55" height="4.9" fill="#fff"/>
<rect x="48.8" y="468.92" width="3.55" height="5.1" fill="#fff"/>
<rect x="54.55" y="453.82" width="3.55" height="4.9" fill="#fff"/>
<rect x="54.55" y="468.92" width="3.55" height="5.1" fill="#fff"/>
<rect x="60.3" y="453.82" width="3.55" height="4.9" fill="#fff"/>
<rect x="60.3" y="468.92" width="3.55" height="5.1" fill="#fff"/>
<rect x="66.05" y="453.82" width="3.55" height="4.9" fill="#fff"/>
<rect x="66.05" y="468.92" width="3.55" height="5.1" fill="#fff"/>
<rect x="71.8" y="453.82" width="3.55" height="4.9" fill="#fff"/>
<rect x="71.8" y="468.92" width="3.55" height="5.1" fill="#fff"/>
<rect x="77.55" y="453.82" width="3.55" height="4.9" fill="#fff"/>
<rect x="77.55" y="468.92" width="3.55" height="5.1" fill="#fff"/>
<rect x="83.3" y="453.82" width="3.55" height="4.9" fill="#fff"/>
<rect x="83.3" y="468.92" width="3.55" height="5.1" fill="#fff"/>
<rect x="89.05" y="453.82" width="3.55" height="4.9" fill="#fff"/>
<rect x="89.05" y="468.92" width="3.55" height="5.1" fill="#fff"/>
<rect x="94.8" y="453.82" width="3.55" height="4.9" fill="#fff"/>
<rect x="94.8" y="468.92" width="3.55" height="5.1" fill="#fff"/>
<rect x="100.55" y="453.82" width="3.55" height="4.9" fill="#fff"/>
<rect x="100.55" y="468.92" width="3.55" height="5.1" fill="#fff"/>
<rect x="106.3" y="453.82" width="3.55" height="4.9" fill="#fff"/>
<rect x="106.3" y="468.92" width="3.55" height="5.1" fill="#fff"/>
<rect x="112.05" y="453.82" width="3.55" height="4.9" fill="#fff"/>
<rect x="112.05" y="468.92" width="3.55" height="5.1" fill="#fff"/>
<rect x="38.5" y="460.52" width="34" height="5.2" fill="#fff"/>
<rect x="77" y="460.52" width="38" height="5.2" fill="#fff"/>
<rect x="115.9" y="460.82" width="4.6" height="4.6" fill="#fff" rx="1.8"/>
<rect x="34" y="450.62" width="85.5" height="0.9" fill="#fff"/>
<rect x="37.3" y="479.65" width="3.55" height="4.9" fill="#fff"/>
<rect x="37.3" y="494.75" width="3.55" height="5.1" fill="#fff"/>
<rect x="43.05" y="479.65" width="3.55" height="4.9" fill="#fff"/>
<rect x="43.05" y="494.75" width="3.55" height="5.1" fill="#fff"/>
<rect x="48.8" y="479.65" width="3.55" height="4.9" fill="#fff"/>
<rect x="48.8" y="494.75" width="3.55" height="5.1" fill="#fff"/>
<rect x="54.55" y="479.65" width="3.55" height="4.9" fill="#fff"/>
<rect x="54.55" y="494.75" width="3.55" height="5.1" fill="#fff"/>
<rect x="60.3" y="479.65" width="3.55" height="4.9" fill="#fff"/>
<rect x="60.3" y="494.75" width="3.55" height="5.1" fill="#fff"/>
<rect x="66.05" y="479.65" width="3.55" height="4.9" fill="#fff"/>
<rect x="66.05" y="494.75" width="3.55" height="5.1" fill="#fff"/>
<rect x="71.8" y="479.65" width="3.55" height="4.9" fill="#fff"/>
<rect x="71.8" y="494.75" width="3.55" height="5.1" fill="#fff"/>
<rect x="77.55" y="479.65" width="3.55" height="4.9" fill="#fff"/>
<rect x="77.55" y="494.75" width="3.55" height="5.1" fill="#fff"/>
<rect x="83.3" y="479.65" width="3.55" height="4.9" fill="#fff"/>
<rect x="83.3" y="494.75" width="3.55" height="5.1" fill="#fff"/>
<rect x="89.05" y="479.65" width="3.55" height="4.9" fill="#fff"/>
<rect x="89.05" y="494.75" width="3.55" height="5.1" fill="#fff"/>
<rect x="94.8" y="479.65" width="3.55" height="4.9" fill="#fff"/>
<rect x="94.8" y="494.75" width="3.55" height="5.1" fill="#fff"/>
<rect x="100.55" y="479.65" width="3.55" height="4.9" fill="#fff"/>
<rect x="100.55" y="494.75" width="3.55" height="5.1" fill="#fff"/>
<rect x="106.3" y="479.65" width="3.55" height="4.9" fill="#fff"/>
<rect x="106.3" y="494.75" width="3.55" height="5.1" fill="#fff"/>
<rect x="112.05" y="479.65" width="3.55" height="4.9" fill="#fff"/>
<rect x="112.05" y="494.75" width="3.55" height="5.1" fill="#fff"/>
<rect x="38.5" y="486.35" width="34" height="5.2" fill="#fff"/>
<rect x="77" y="486.35" width="38" height="5.2" fill="#fff"/>
<rect x="115.9" y="486.65" width="4.6" height="4.6" fill="#fff" rx="1.8"/>
<rect x="34" y="476.45" width="85.5" height="0.9" fill="#fff"/>
<rect x="37.3" y="505.48" width="3.55" height="4.9" fill="#fff"/>
<rect x="37.3" y="520.58" width="3.55" height="5.1" fill="#fff"/>
<rect x="43.05" y="505.48" width="3.55" height="4.9" fill="#fff"/>
<rect x="43.05" y="520.58" width="3.55" height="5.1" fill="#fff"/>
<rect x="48.8" y="505.48" width="3.55" height="4.9" fill="#fff"/>
<rect x="48.8" y="520.58" width="3.55" height="5.1" fill="#fff"/>
<rect x="54.55" y="505.48" width="3.55" height="4.9" fill="#fff"/>
<rect x="54.55" y="520.58" width="3.55" height="5.1" fill="#fff"/>
<rect x="60.3" y="505.48" width="3.55" height="4.9" fill="#fff"/>
<rect x="60.3" y="520.58" width="3.55" height="5.1" fill="#fff"/>
<rect x="66.05" y="505.48" width="3.55" height="4.9" fill="#fff"/>
<rect x="66.05" y="520.58" width="3.55" height="5.1" fill="#fff"/>
<rect x="71.8" y="505.48" width="3.55" height="4.9" fill="#fff"/>
<rect x="71.8" y="520.58" width="3.55" height="5.1" fill="#fff"/>
<rect x="77.55" y="505.48" width="3.55" height="4.9" fill="#fff"/>
<rect x="77.55" y="520.58" width="3.55" height="5.1" fill="#fff"/>
<rect x="83.3" y="505.48" width="3.55" height="4.9" fill="#fff"/>
<rect x="83.3" y="520.58" width="3.55" height="5.1" fill="#fff"/>
<rect x="89.05" y="505.48" width="3.55" height="4.9" fill="#fff"/>
<rect x="89.05" y="520.58" width="3.55" height="5.1" fill="#fff"/>
<rect x="94.8" y="505.48" width="3.55" height="4.9" fill="#fff"/>
<rect x="94.8" y="520.58" width="3.55" height="5.1" fill="#fff"/>
<rect x="100.55" y="505.48" width="3.55" height="4.9" fill="#fff"/>
<rect x="100.55" y="520.58" width="3.55" height="5.1" fill="#fff"/>
<rect x="106.3" y="505.48" width="3.55" height="4.9" fill="#fff"/>
<rect x="106.3" y="520.58" width="3.55" height="5.1" fill="#fff"/>
<rect x="112.05" y="505.48" width="3.55" height="4.9" fill="#fff"/>
<rect x="112.05" y="520.58" width="3.55" height="5.1" fill="#fff"/>
<rect x="38.5" y="512.17" width="34" height="5.2" fill="#fff"/>
<rect x="77" y="512.17" width="38" height="5.2" fill="#fff"/>
<rect x="115.9" y="512.48" width="4.6" height="4.6" fill="#fff" rx="1.8"/>
<rect x="34" y="502.28" width="85.5" height="0.9" fill="#fff"/>
<rect x="125" y="425.7" width="85" height="103.3" fill="#000"/>
<rect x="128.3" y="428" width="3.51" height="4.9" fill="#fff"/>
<rect x="128.3" y="443.1" width="3.51" height="5.1" fill="#fff"/>
<rect x="134.01" y="428" width="3.51" height="4.9" fill="#fff"/>
<rect x="134.01" y="443.1" width="3.51" height="5.1" fill="#fff"/>
<rect x="139.73" y="428" width="3.51" height="4.9" fill="#fff"/>
<rect x="139.73" y="443.1" width="3.51" height="5.1" fill="#fff"/>
<rect x="145.44" y="428" width="3.51" height="4.9" fill="#fff"/>
<rect x="145.44" y="443.1" width="3.51" height="5.1" fill="#fff"/>
<rect x="151.16" y="428" width="3.51" height="4.9" fill="#fff"/>
<rect x="151.16" y="443.1" width="3.51" height="5.1" fill="#fff"/>
<rect x="156.87" y="428" width="3.51" height="4.9" fill="#fff"/>
<rect x="156.87" y="443.1" width="3.51" height="5.1" fill="#fff"/>
<rect x="162.59" y="428" width="3.51" height="4.9" fill="#fff"/>
<rect x="162.59" y="443.1" width="3.51" height="5.1" fill="#fff"/>
<rect x="168.3" y="428" width="3.51" height="4.9" fill="#fff"/>
<rect x="168.3" y="443.1" width="3.51" height="5.1" fill="#fff"/>
<rect x="174.01" y="428" width="3.51" height="4.9" fill="#fff"/>
<rect x="174.01" y="443.1" width="3.51" height="5.1" fill="#fff"/>
<rect x="179.73" y="428" width="3.51" height="4.9" fill="#fff"/>
<rect x="179.73" y="443.1" width="3.51" height="5.1" fill="#fff"/>
<rect x="185.44" y="428" width="3.51" height="4.9" fill="#fff"/>
<rect x="185.44" y="443.1" width="3.51" height="5.1" fill="#fff"/>
<rect x="191.16" y="428" width="3.51" height="4.9" fill="#fff"/>
<rect x="191.16" y="443.1" width="3.51" height="5.1" fill="#fff"/>
<rect x="196.87" y="428" width="3.51" height="4.9" fill="#fff"/>
<rect x="196.87" y="443.1" width="3.51" height="5.1" fill="#fff"/>
<rect x="202.59" y="428" width="3.51" height="4.9" fill="#fff"/>
<rect x="202.59" y="443.1" width="3.51" height="5.1" fill="#fff"/>
<rect x="129.5" y="434.7" width="34" height="5.2" fill="#fff"/>
<rect x="168" y="434.7" width="37.5" height="5.2" fill="#fff"/>
<rect x="206.4" y="435" width="4.6" height="4.6" fill="#fff" rx="1.8"/>
<rect x="128.3" y="453.82" width="3.51" height="4.9" fill="#fff"/>
<rect x="128.3" y="468.92" width="3.51" height="5.1" fill="#fff"/>
<rect x="134.01" y="453.82" width="3.51" height="4.9" fill="#fff"/>
<rect x="134.01" y="468.92" width="3.51" height="5.1" fill="#fff"/>
<rect x="139.73" y="453.82" width="3.51" height="4.9" fill="#fff"/>
<rect x="139.73" y="468.92" width="3.51" height="5.1" fill="#fff"/>
<rect x="145.44" y="453.82" width="3.51" height="4.9" fill="#fff"/>
<rect x="145.44" y="468.92" width="3.51" height="5.1" fill="#fff"/>
<rect x="151.16" y="453.82" width="3.51" height="4.9" fill="#fff"/>
<rect x="151.16" y="468.92" width="3.51" height="5.1" fill="#fff"/>
<rect x="156.87" y="453.82" width="3.51" height="4.9" fill="#fff"/>
<rect x="156.87" y="468.92" width="3.51" height="5.1" fill="#fff"/>
<rect x="162.59" y="453.82" width="3.51" height="4.9" fill="#fff"/>
<rect x="162.59" y="468.92" width="3.51" height="5.1" fill="#fff"/>
<rect x="168.3" y="453.82" width="3.51" height="4.9" fill="#fff"/>
<rect x="168.3" y="468.92" width="3.51" height="5.1" fill="#fff"/>
<rect x="174.01" y="453.82" width="3.51" height="4.9" fill="#fff"/>
<rect x="174.01" y="468.92" width="3.51" height="5.1" fill="#fff"/>
<rect x="179.73" y="453.82" width="3.51" height="4.9" fill="#fff"/>
<rect x="179.73" y="468.92" width="3.51" height="5.1" fill="#fff"/>
<rect x="185.44" y="453.82" width="3.51" height="4.9" fill="#fff"/>
<rect x="185.44" y="468.92" width="3.51" height="5.1" fill="#fff"/>
<rect x="191.16" y="453.82" width="3.51" height="4.9" fill="#fff"/>
<rect x="191.16" y="468.92" width="3.51" height="5.1" fill="#fff"/>
<rect x="196.87" y="453.82" width="3.51" height="4.9" fill="#fff"/>
<rect x="196.87" y="468.92" width="3.51" height="5.1" fill="#fff"/>
<rect x="202.59" y="453.82" width="3.51" height="4.9" fill="#fff"/>
<rect x="202.59" y="468.92" width="3.51" height="5.1" fill="#fff"/>
<rect x="129.5" y="460.52" width="34" height="5.2" fill="#fff"/>
<rect x="168" y="460.52" width="37.5" height="5.2" fill="#fff"/>
<rect x="206.4" y="460.82" width="4.6" height="4.6" fill="#fff" rx="1.8"/>
<rect x="125" y="450.62" width="85" height="0.9" fill="#fff"/>
<rect x="128.3" y="479.65" width="3.51" height="4.9" fill="#fff"/>
<rect x="128.3" y="494.75" width="3.51" height="5.1" fill="#fff"/>
<rect x="134.01" y="479.65" width="3.51" height="4.9" fill="#fff"/>
<rect x="134.01" y="494.75" width="3.51" height="5.1" fill="#fff"/>
<rect x="139.73" y="479.65" width="3.51" height="4.9" fill="#fff"/>
<rect x="139.73" y="494.75" width="3.51" height="5.1" fill="#fff"/>
<rect x="145.44" y="479.65" width="3.51" height="4.9" fill="#fff"/>
<rect x="145.44" y="494.75" width="3.51" height="5.1" fill="#fff"/>
<rect x="151.16" y="479.65" width="3.51" height="4.9" fill="#fff"/>
<rect x="151.16" y="494.75" width="3.51" height="5.1" fill="#fff"/>
<rect x="156.87" y="479.65" width="3.51" height="4.9" fill="#fff"/>
<rect x="156.87" y="494.75" width="3.51" height="5.1" fill="#fff"/>
<rect x="162.59" y="479.65" width="3.51" height="4.9" fill="#fff"/>
<rect x="162.59" y="494.75" width="3.51" height="5.1" fill="#fff"/>
<rect x="168.3" y="479.65" width="3.51" height="4.9" fill="#fff"/>
<rect x="168.3" y="494.75" width="3.51" height="5.1" fill="#fff"/>
<rect x="174.01" y="479.65" width="3.51" height="4.9" fill="#fff"/>
<rect x="174.01" y="494.75" width="3.51" height="5.1" fill="#fff"/>
<rect x="179.73" y="479.65" width="3.51" height="4.9" fill="#fff"/>
<rect x="179.73" y="494.75" width="3.51" height="5.1" fill="#fff"/>
<rect x="185.44" y="479.65" width="3.51" height="4.9" fill="#fff"/>
<rect x="185.44" y="494.75" width="3.51" height="5.1" fill="#fff"/>
<rect x="191.16" y="479.65" width="3.51" height="4.9" fill="#fff"/>
<rect x="191.16" y="494.75" width="3.51" height="5.1" fill="#fff"/>
<rect x="196.87" y="479.65" width="3.51" height="4.9" fill="#fff"/>
<rect x="196.87" y="494.75" width="3.51" height="5.1" fill="#fff"/>
<rect x="202.59" y="479.65" width="3.51" height="4.9" fill="#fff"/>
<rect x="202.59" y="494.75" width="3.51" height="5.1" fill="#fff"/>
<rect x="129.5" y="486.35" width="34" height="5.2" fill="#fff"/>
<rect x="168" y="486.35" width="37.5" height="5.2" fill="#fff"/>
<rect x="206.4" y="486.65" width="4.6" height="4.6" fill="#fff" rx="1.8"/>
<rect x="125" y="476.45" width="85" height="0.9" fill="#fff"/>
<rect x="128.3" y="505.48" width="3.51" height="4.9" fill="#fff"/>
<rect x="128.3" y="520.58" width="3.51" height="5.1" fill="#fff"/>
<rect x="134.01" y="505.48" width="3.51" height="4.9" fill="#fff"/>
<rect x="134.01" y="520.58" width="3.51" height="5.1" fill="#fff"/>
<rect x="139.73" y="505.48" width="3.51" height="4.9" fill="#fff"/>
<rect x="139.73" y="520.58" width="3.51" height="5.1" fill="#fff"/>
<rect x="145.44" y="505.48" width="3.51" height="4.9" fill="#fff"/>
<rect x="145.44" y="520.58" width="3.51" height="5.1" fill="#fff"/>
<rect x="151.16" y="505.48" width="3.51" height="4.9" fill="#fff"/>
<rect x="151.16" y="520.58" width="3.51" height="5.1" fill="#fff"/>
<rect x="156.87" y="505.48" width="3.51" height="4.9" fill="#fff"/>
<rect x="156.87" y="520.58" width="3.51" height="5.1" fill="#fff"/>
<rect x="162.59" y="505.48" width="3.51" height="4.9" fill="#fff"/>
<rect x="162.59" y="520.58" width="3.51" height="5.1" fill="#fff"/>
<rect x="168.3" y="505.48" width="3.51" height="4.9" fill="#fff"/>
<rect x="168.3" y="520.58" width="3.51" height="5.1" fill="#fff"/>
<rect x="174.01" y="505.48" width="3.51" height="4.9" fill="#fff"/>
<rect x="174.01" y="520.58" width="3.51" height="5.1" fill="#fff"/>
<rect x="179.73" y="505.48" width="3.51" height="4.9" fill="#fff"/>
<rect x="179.73" y="520.58" width="3.51" height="5.1" fill="#fff"/>
<rect x="185.44" y="505.48" width="3.51" height="4.9" fill="#fff"/>
<rect x="185.44" y="520.58" width="3.51" height="5.1" fill="#fff"/>
<rect x="191.16" y="505.48" width="3.51" height="4.9" fill="#fff"/>
<rect x="191.16" y="520.58" width="3.51" height="5.1" fill="#fff"/>
<rect x="196.87" y="505.48" width="3.51" height="4.9" fill="#fff"/>
<rect x="196.87" y="520.58" width="3.51" height="5.1" fill="#fff"/>
<rect x="202.59" y="505.48" width="3.51" height="4.9" fill="#fff"/>
<rect x="202.59" y="520.58" width="3.51" height="5.1" fill="#fff"/>
<rect x="129.5" y="512.17" width="34" height="5.2" fill="#fff"/>
<rect x="168" y="512.17" width="37.5" height="5.2" fill="#fff"/>
<rect x="206.4" y="512.48" width="4.6" height="4.6" fill="#fff" rx="1.8"/>
<rect x="125" y="502.28" width="85" height="0.9" fill="#fff"/>
<rect x="69" y="440.3" width="15" height="72.7" rx="4.5" fill="#fff" stroke="#000" stroke-width="1" shape-rendering="geometricPrecision"/>
<text transform="translate(76.5 450.4) scale(0.88 1)" font-size="12.6" text-anchor="middle">B</text>
<text transform="translate(76.5 465.5) scale(0.88 1)" font-size="12.6" text-anchor="middle">A</text>
<text transform="translate(76.5 480.6) scale(0.88 1)" font-size="12.6" text-anchor="middle">N</text>
<text transform="translate(76.5 495.7) scale(0.88 1)" font-size="12.6" text-anchor="middle">K</text>
<text transform="translate(76.5 510.8) scale(0.88 1)" font-size="12.6" text-anchor="middle">0</text>
<rect x="160.5" y="440.3" width="15" height="72.7" rx="4.5" fill="#fff" stroke="#000" stroke-width="1" shape-rendering="geometricPrecision"/>
<text transform="translate(168 450.4) scale(0.88 1)" font-size="12.6" text-anchor="middle">B</text>
<text transform="translate(168 465.5) scale(0.88 1)" font-size="12.6" text-anchor="middle">A</text>
<text transform="translate(168 480.6) scale(0.88 1)" font-size="12.6" text-anchor="middle">N</text>
<text transform="translate(168 495.7) scale(0.88 1)" font-size="12.6" text-anchor="middle">K</text>
<text transform="translate(168 510.8) scale(0.88 1)" font-size="12.6" text-anchor="middle">1</text>
<rect x="98.5" y="469.5" width="47" height="14.5" fill="#fff" stroke="#000" stroke-width="1"/>
<text transform="translate(99.91 481.5) scale(0.85 1)" font-size="14" fill="#000" letter-spacing="0.57">CACHE</text>
<rect x="258.5" y="474.5" width="111" height="24" fill="#fff" stroke="#000" stroke-width="1"/>
<line x1="258" y1="482.5" x2="370" y2="482.5" stroke="#000" stroke-width="0.8"/>
<rect x="261" y="477.5" width="6.5" height="2" fill="#fff" stroke="#000" stroke-width="0.9"/>
<rect x="263" y="480" width="2.5" height="1.5" fill="#000"/>
<rect x="260.5" y="485" width="6.5" height="1.8" fill="#000"/>
<rect x="264" y="489" width="6" height="6.5" fill="#fff" stroke="#000" stroke-width="1"/>
<rect x="270.05" y="477.5" width="6.5" height="2" fill="#fff" stroke="#000" stroke-width="0.9"/>
<rect x="272.05" y="480" width="2.5" height="1.5" fill="#000"/>
<rect x="269.55" y="485" width="6.5" height="1.8" fill="#000"/>
<rect x="273.05" y="489" width="6" height="6.5" fill="#fff" stroke="#000" stroke-width="1"/>
<rect x="279.1" y="477.5" width="6.5" height="2" fill="#fff" stroke="#000" stroke-width="0.9"/>
<rect x="281.1" y="480" width="2.5" height="1.5" fill="#000"/>
<rect x="278.6" y="485" width="6.5" height="1.8" fill="#000"/>
<rect x="282.1" y="489" width="6" height="6.5" fill="#fff" stroke="#000" stroke-width="1"/>
<rect x="288.15" y="477.5" width="6.5" height="2" fill="#fff" stroke="#000" stroke-width="0.9"/>
<rect x="290.15" y="480" width="2.5" height="1.5" fill="#000"/>
<rect x="287.65" y="485" width="6.5" height="1.8" fill="#000"/>
<rect x="291.15" y="489" width="6" height="6.5" fill="#fff" stroke="#000" stroke-width="1"/>
<rect x="297.2" y="477.5" width="6.5" height="2" fill="#fff" stroke="#000" stroke-width="0.9"/>
<rect x="299.2" y="480" width="2.5" height="1.5" fill="#000"/>
<rect x="296.7" y="485" width="6.5" height="1.8" fill="#000"/>
<rect x="300.2" y="489" width="6" height="6.5" fill="#fff" stroke="#000" stroke-width="1"/>
<rect x="306.25" y="477.5" width="6.5" height="2" fill="#fff" stroke="#000" stroke-width="0.9"/>
<rect x="308.25" y="480" width="2.5" height="1.5" fill="#000"/>
<rect x="305.75" y="485" width="6.5" height="1.8" fill="#000"/>
<rect x="309.25" y="489" width="6" height="6.5" fill="#fff" stroke="#000" stroke-width="1"/>
<rect x="315.3" y="477.5" width="6.5" height="2" fill="#fff" stroke="#000" stroke-width="0.9"/>
<rect x="317.3" y="480" width="2.5" height="1.5" fill="#000"/>
<rect x="314.8" y="485" width="6.5" height="1.8" fill="#000"/>
<rect x="318.3" y="489" width="6" height="6.5" fill="#fff" stroke="#000" stroke-width="1"/>
<rect x="324.35" y="477.5" width="6.5" height="2" fill="#fff" stroke="#000" stroke-width="0.9"/>
<rect x="326.35" y="480" width="2.5" height="1.5" fill="#000"/>
<rect x="323.85" y="485" width="6.5" height="1.8" fill="#000"/>
<rect x="327.35" y="489" width="6" height="6.5" fill="#fff" stroke="#000" stroke-width="1"/>
<rect x="333.4" y="477.5" width="6.5" height="2" fill="#fff" stroke="#000" stroke-width="0.9"/>
<rect x="335.4" y="480" width="2.5" height="1.5" fill="#000"/>
<rect x="332.9" y="485" width="6.5" height="1.8" fill="#000"/>
<rect x="336.4" y="489" width="6" height="6.5" fill="#fff" stroke="#000" stroke-width="1"/>
<rect x="342.45" y="477.5" width="6.5" height="2" fill="#fff" stroke="#000" stroke-width="0.9"/>
<rect x="344.45" y="480" width="2.5" height="1.5" fill="#000"/>
<rect x="341.95" y="485" width="6.5" height="1.8" fill="#000"/>
<rect x="345.45" y="489" width="6" height="6.5" fill="#fff" stroke="#000" stroke-width="1"/>
<rect x="351.5" y="477.5" width="6.5" height="2" fill="#fff" stroke="#000" stroke-width="0.9"/>
<rect x="353.5" y="480" width="2.5" height="1.5" fill="#000"/>
<rect x="351" y="485" width="6.5" height="1.8" fill="#000"/>
<rect x="354.5" y="489" width="6" height="6.5" fill="#fff" stroke="#000" stroke-width="1"/>
<rect x="360.55" y="477.5" width="6.5" height="2" fill="#fff" stroke="#000" stroke-width="0.9"/>
<rect x="362.55" y="480" width="2.5" height="1.5" fill="#000"/>
<rect x="360.05" y="485" width="6.5" height="1.8" fill="#000"/>
<rect x="363.55" y="489" width="6" height="6.5" fill="#fff" stroke="#000" stroke-width="1"/>
<rect x="258" y="490" width="2.5" height="4" fill="#000"/>
<rect x="367.5" y="490" width="2.5" height="4" fill="#000"/>
<circle cx="412.3" cy="487.5" r="23.2" fill="#fff" stroke="#000" stroke-width="1" shape-rendering="geometricPrecision"/>
<rect x="405" y="449" width="16" height="17" fill="#000"/>
<path d="M409.5 449.5 V499 Q409.5 502.5 412.5 502.5 Q415.5 502.5 415.5 499 V449.5 Z" fill="#fff" stroke="#000" stroke-width="1" shape-rendering="geometricPrecision"/>
<line x1="409.5" y1="491.5" x2="415.5" y2="491.5" stroke="#000" stroke-width="0.8"/>
<rect x="458" y="471" width="88" height="41.5" fill="#000"/>
<rect x="482" y="484.2" width="40" height="14.5" fill="#fff" rx="1.5"/>
<text transform="translate(483.52 495.8) scale(0.85 1)" font-size="14" fill="#000" letter-spacing="3.36">BIOS</text>
<rect x="600" y="388.2" width="43" height="126.5" fill="#000"/>
<line x1="602.7" y1="391" x2="602.7" y2="513" stroke="#fff" stroke-width="1" stroke-dasharray="4.2 2.4"/>
<rect x="608" y="444" width="28" height="14.2" fill="#fff" rx="1.5"/>
<text transform="translate(608.82 455.7) scale(0.85 1)" font-size="14" fill="#000" letter-spacing="0.63">KBD</text>
<rect x="507" y="447" width="8" height="19" fill="#000"/>
<rect x="508" y="448" width="6" height="17" fill="#fff"/>
<rect x="509" y="449" width="4" height="4.5" fill="#000"/>
<rect x="510" y="450" width="2" height="2.5" fill="#fff"/>
<rect x="509" y="455" width="4" height="4.5" fill="#000"/>
<rect x="509" y="461" width="4" height="4.5" fill="#000"/>
<rect x="518" y="447" width="7" height="19" fill="#000"/>
<rect x="520" y="449" width="3" height="3.5" fill="#fff"/>
<rect x="519" y="453" width="5" height="1" fill="#fff"/>
<rect x="519" y="459" width="5" height="1" fill="#fff"/>
<rect x="519" y="465" width="5" height="1" fill="#fff"/>
<rect x="532" y="447" width="8" height="19" fill="#000"/>
<rect x="533" y="448" width="6" height="6" fill="#fff"/>
<rect x="534" y="449" width="4" height="3.5" fill="#000"/>
<rect x="535" y="450" width="2" height="1.5" fill="#fff"/>
<rect x="533" y="458.5" width="5" height="1" fill="#fff"/>
<rect x="533" y="458.5" width="1" height="6.5" fill="#fff"/>
<rect x="570" y="473" width="8" height="19" fill="#000"/>
<rect x="571" y="474" width="6" height="17" fill="#fff"/>
<rect x="572" y="475" width="4" height="4.5" fill="#000"/>
<rect x="573" y="476" width="2" height="2.5" fill="#fff"/>
<rect x="572" y="481" width="4" height="4.5" fill="#000"/>
<rect x="572" y="487" width="4" height="4.5" fill="#000"/>
<rect x="412.5" y="531.5" width="177.5" height="17" fill="#fff" stroke="#000" stroke-width="1"/>
<rect x="412" y="547" width="178.5" height="2" fill="#000"/>
<rect x="606" y="520" width="7" height="18" fill="#000"/>
<rect x="607" y="521" width="5" height="16" fill="#fff"/>
<rect x="608" y="522" width="3" height="3.17" fill="#000"/>
<rect x="609" y="523" width="1" height="1.17" fill="#fff"/>
<rect x="607" y="526.17" width="5" height="3.12" fill="#000"/>
<rect x="607" y="531.83" width="5" height="3.12" fill="#000"/>
<rect x="615" y="520" width="7" height="18" fill="#000"/>
<rect x="616" y="521" width="5" height="16" fill="#fff"/>
<rect x="617" y="522" width="3" height="4.17" fill="#000"/>
<rect x="618" y="523" width="1" height="2.17" fill="#fff"/>
<rect x="617" y="527.67" width="3" height="4.17" fill="#000"/>
<rect x="617" y="533.33" width="3" height="4.17" fill="#000"/>
<rect x="625" y="520" width="8" height="18" fill="#000"/>
<rect x="626" y="521" width="6" height="5.67" fill="#fff"/>
<rect x="627" y="522" width="4" height="3.17" fill="#000"/>
<rect x="628" y="523" width="2" height="1.17" fill="#fff"/>
<rect x="626" y="530.83" width="5" height="1" fill="#fff"/>
<rect x="626" y="530.83" width="1" height="6.17" fill="#fff"/>
<rect x="3" y="35" width="26" height="19" rx="3" fill="#000" shape-rendering="geometricPrecision"/>
<rect x="4.1" y="36.1" width="22.5" height="15.5" rx="2" fill="#fff" shape-rendering="geometricPrecision"/>
<polygon points="26.8,40.3 30.14,41.3 35.15,42.4 43.5,43.3 43.5,45.3 35.15,46.2 30.14,47.3 26.8,48.3" fill="#000" shape-rendering="geometricPrecision"/>
<polygon points="24.8,41.9 26.8,41.9 30.14,43.1 35.15,44.3 30.14,45.5 26.8,46.7 24.8,46.7" fill="#fff" shape-rendering="geometricPrecision"/>
<text transform="translate(6.82 48.6) scale(0.85 1)" font-size="14" fill="#000" letter-spacing="0.8">J1</text>
<rect x="92" y="14" width="26" height="18" rx="3" fill="#000" shape-rendering="geometricPrecision"/>
<rect x="93.1" y="15.1" width="22.5" height="14.5" rx="2" fill="#fff" shape-rendering="geometricPrecision"/>
<polygon points="112.29,29.68 114.65,31.27 118.04,33.8 122.93,38.64 124.47,37.36 119.66,32.45 117.23,29.13 115.71,26.82" fill="#000" shape-rendering="geometricPrecision"/>
<text transform="translate(95.82 27.1) scale(0.85 1)" font-size="14" fill="#000" letter-spacing="2.36">J2</text>
<rect x="136" y="3" width="43" height="18.5" rx="3" fill="#000" shape-rendering="geometricPrecision"/>
<rect x="137.1" y="4.1" width="39.5" height="15" rx="2" fill="#fff" shape-rendering="geometricPrecision"/>
<polygon points="154.41,19.3 155.39,23.04 156.45,28.65 157.3,38 159.3,38 160.15,28.65 161.21,23.04 162.19,19.3" fill="#000" shape-rendering="geometricPrecision"/>
<polygon points="155.97,17.06 155.97,19.3 157.13,23.04 158.3,28.65 159.47,23.04 160.63,19.3 160.63,17.06" fill="#fff" shape-rendering="geometricPrecision"/>
<text transform="translate(139.82 16.35) scale(0.85 1)" font-size="14" fill="#000" letter-spacing="2.58">JP26</text>
<rect x="193" y="13" width="42" height="19" rx="3" fill="#000" shape-rendering="geometricPrecision"/>
<rect x="194.1" y="14.1" width="38.5" height="15.5" rx="2" fill="#fff" shape-rendering="geometricPrecision"/>
<polygon points="194.18,25.75 192.77,28.4 190.4,32.17 185.71,37.89 187.29,39.11 192.85,34.08 196.63,31.4 199.32,29.75" fill="#000" shape-rendering="geometricPrecision"/>
<text transform="translate(196.52 26.6) scale(0.85 1)" font-size="14" fill="#000" letter-spacing="2.33">JP17</text>
<rect x="75" y="64" width="46.5" height="18" rx="3" fill="#000" shape-rendering="geometricPrecision"/>
<rect x="76.1" y="65.1" width="43" height="14.5" rx="2" fill="#fff" shape-rendering="geometricPrecision"/>
<polygon points="119.3,68.5 122.74,69.5 127.9,70.6 136.5,71.5 136.5,73.5 127.9,74.4 122.74,75.5 119.3,76.5" fill="#000" shape-rendering="geometricPrecision"/>
<polygon points="117.24,70.1 119.3,70.1 122.74,71.3 127.9,72.5 122.74,73.7 119.3,74.9 117.24,74.9" fill="#fff" shape-rendering="geometricPrecision"/>
<text transform="translate(79.82 77.1) scale(0.85 1)" font-size="14" fill="#000" letter-spacing="2.42">JP28</text>
<rect x="253" y="42.5" width="46" height="18" rx="3" fill="#000" shape-rendering="geometricPrecision"/>
<rect x="254.1" y="43.6" width="42.5" height="14.5" rx="2" fill="#fff" shape-rendering="geometricPrecision"/>
<polygon points="253.8,46.5 250.54,47.5 245.65,48.6 237.5,49.5 237.5,51.5 245.65,52.4 250.54,53.5 253.8,54.5" fill="#000" shape-rendering="geometricPrecision"/>
<polygon points="255.76,48.1 253.8,48.1 250.54,49.3 245.65,50.5 250.54,51.7 253.8,52.9 255.76,52.9" fill="#fff" shape-rendering="geometricPrecision"/>
<text transform="translate(256.82 55.6) scale(0.85 1)" font-size="14" fill="#000" letter-spacing="2.75">JP11</text>
<rect x="219.5" y="83" width="46.5" height="18.5" rx="3" fill="#000" shape-rendering="geometricPrecision"/>
<rect x="220.6" y="84.1" width="43" height="15" rx="2" fill="#fff" shape-rendering="geometricPrecision"/>
<polygon points="220.3,88 217.14,89 212.4,90.1 204.5,91 204.5,93 212.4,93.9 217.14,95 220.3,96" fill="#000" shape-rendering="geometricPrecision"/>
<polygon points="222.2,89.6 220.3,89.6 217.14,90.8 212.4,92 217.14,93.2 220.3,94.4 222.2,94.4" fill="#fff" shape-rendering="geometricPrecision"/>
<text transform="translate(223.32 96.35) scale(0.85 1)" font-size="14" fill="#000" letter-spacing="3.09">JP18</text>
<rect x="20" y="106" width="26" height="17.5" rx="3" fill="#000" shape-rendering="geometricPrecision"/>
<rect x="21.1" y="107.1" width="22.5" height="14" rx="2" fill="#fff" shape-rendering="geometricPrecision"/>
<polygon points="43.8,111.3 47.24,112.3 52.4,113.4 61,114.3 61,116.3 52.4,117.2 47.24,118.3 43.8,119.3" fill="#000" shape-rendering="geometricPrecision"/>
<polygon points="41.74,112.9 43.8,112.9 47.24,114.1 52.4,115.3 47.24,116.5 43.8,117.7 41.74,117.7" fill="#fff" shape-rendering="geometricPrecision"/>
<text transform="translate(23.82 118.85) scale(0.85 1)" font-size="14" fill="#000" letter-spacing="2.26">J3</text>
<rect x="89" y="105.5" width="45.5" height="18" rx="3" fill="#000" shape-rendering="geometricPrecision"/>
<rect x="90.1" y="106.6" width="42" height="14.5" rx="2" fill="#fff" shape-rendering="geometricPrecision"/>
<polygon points="132.3,110.5 135.84,111.5 141.15,112.6 150,113.5 150,115.5 141.15,116.4 135.84,117.5 132.3,118.5" fill="#000" shape-rendering="geometricPrecision"/>
<polygon points="130.18,112.1 132.3,112.1 135.84,113.3 141.15,114.5 135.84,115.7 132.3,116.9 130.18,116.9" fill="#fff" shape-rendering="geometricPrecision"/>
<text transform="translate(92.82 118.6) scale(0.85 1)" font-size="14" fill="#000" letter-spacing="2.73">JP27</text>
<rect x="31" y="128" width="26" height="18.5" rx="3" fill="#000" shape-rendering="geometricPrecision"/>
<rect x="32.1" y="129.1" width="22.5" height="15" rx="2" fill="#fff" shape-rendering="geometricPrecision"/>
<polygon points="54.8,132.7 58.24,133.7 63.4,134.8 72,135.7 72,137.7 63.4,138.6 58.24,139.7 54.8,140.7" fill="#000" shape-rendering="geometricPrecision"/>
<polygon points="52.74,134.3 54.8,134.3 58.24,135.5 63.4,136.7 58.24,137.9 54.8,139.1 52.74,139.1" fill="#fff" shape-rendering="geometricPrecision"/>
<text transform="translate(34.41 141.35) scale(0.85 1)" font-size="14" fill="#000" letter-spacing="2.07">C1</text>
<rect x="414.5" y="60.5" width="58.5" height="18" rx="3" fill="#000" shape-rendering="geometricPrecision"/>
<rect x="415.6" y="61.6" width="55" height="14.5" rx="2" fill="#fff" shape-rendering="geometricPrecision"/>
<text transform="translate(417.02 73.6) scale(0.85 1)" font-size="14" fill="#000" letter-spacing="2.53">BANK 2</text>
<rect x="415" y="144" width="58.5" height="18.5" rx="3" fill="#000" shape-rendering="geometricPrecision"/>
<rect x="416.1" y="145.1" width="55" height="15" rx="2" fill="#fff" shape-rendering="geometricPrecision"/>
<text transform="translate(420.82 157.35) scale(0.85 1)" font-size="14" fill="#000" letter-spacing="1.2">BANK 1</text>
<rect x="413" y="100" width="59" height="17" rx="3" fill="#000" shape-rendering="geometricPrecision"/>
<rect x="414.1" y="101.1" width="55.5" height="13.5" rx="2" fill="#fff" shape-rendering="geometricPrecision"/>
<text transform="translate(418.02 112.6) scale(0.85 1)" font-size="14" fill="#000" letter-spacing="0.96">BANK 0</text>
<rect x="294" y="144.5" width="42" height="16.5" rx="3" fill="#000" shape-rendering="geometricPrecision"/>
<rect x="295.1" y="145.6" width="38.5" height="13" rx="2" fill="#fff" shape-rendering="geometricPrecision"/>
<polygon points="295.21,155.75 293.69,158.6 291.16,162.68 286.25,168.84 287.75,170.16 293.34,164.57 297.11,161.6 299.79,159.75" fill="#000" shape-rendering="geometricPrecision"/>
<text transform="translate(301.82 156.85) scale(0.85 1)" font-size="14" fill="#000" letter-spacing="1.95">JP4</text>
<rect x="314" y="169" width="36.5" height="18.5" rx="3" fill="#000" shape-rendering="geometricPrecision"/>
<rect x="315.1" y="170.1" width="33" height="15" rx="2" fill="#fff" shape-rendering="geometricPrecision"/>
<polygon points="314.8,173.7 311.84,174.7 307.4,175.8 300,176.7 300,178.7 307.4,179.6 311.84,180.7 314.8,181.7" fill="#000" shape-rendering="geometricPrecision"/>
<polygon points="316.58,175.3 314.8,175.3 311.84,176.5 307.4,177.7 311.84,178.9 314.8,180.1 316.58,180.1" fill="#fff" shape-rendering="geometricPrecision"/>
<text transform="translate(317.82 182.35) scale(0.85 1)" font-size="14" fill="#000" letter-spacing="2.63">JP5</text>
<rect x="186" y="193" width="43.5" height="19.5" rx="3" fill="#000" shape-rendering="geometricPrecision"/>
<rect x="187.1" y="194.1" width="40" height="16" rx="2" fill="#fff" shape-rendering="geometricPrecision"/>
<polygon points="203,193.8 204,190.14 205.1,184.65 206,175.5 208,175.5 208.9,184.65 210,190.14 211,193.8" fill="#000" shape-rendering="geometricPrecision"/>
<polygon points="204.6,196 204.6,193.8 205.8,190.14 207,184.65 208.2,190.14 209.4,193.8 209.4,196" fill="#fff" shape-rendering="geometricPrecision"/>
<text transform="translate(189.82 206.85) scale(0.85 1)" font-size="14" fill="#000" letter-spacing="1.93">JP19</text>
<rect x="558" y="95" width="45" height="18.5" rx="3" fill="#000" shape-rendering="geometricPrecision"/>
<rect x="559.1" y="96.1" width="41.5" height="15" rx="2" fill="#fff" shape-rendering="geometricPrecision"/>
<polygon points="600.8,100 604.54,101 610.15,102.1 619.5,103 619.5,105 610.15,105.9 604.54,107 600.8,108" fill="#000" shape-rendering="geometricPrecision"/>
<polygon points="598.56,101.6 600.8,101.6 604.54,102.8 610.15,104 604.54,105.2 600.8,106.4 598.56,106.4" fill="#fff" shape-rendering="geometricPrecision"/>
<text transform="translate(561.4 108.35) scale(0.85 1)" font-size="14" fill="#000" letter-spacing="1.34">CN10</text>
<rect x="583" y="157" width="45.5" height="18.5" rx="3" fill="#000" shape-rendering="geometricPrecision"/>
<rect x="584.1" y="158.1" width="42" height="15" rx="2" fill="#fff" shape-rendering="geometricPrecision"/>
<polygon points="626.3,162.3 629.94,163.3 635.4,164.4 644.5,165.3 644.5,167.3 635.4,168.2 629.94,169.3 626.3,170.3" fill="#000" shape-rendering="geometricPrecision"/>
<polygon points="624.12,163.9 626.3,163.9 629.94,165.1 635.4,166.3 629.94,167.5 626.3,168.7 624.12,168.7" fill="#fff" shape-rendering="geometricPrecision"/>
<text transform="translate(586.82 170.35) scale(0.85 1)" font-size="14" fill="#000" letter-spacing="2.69">JP33</text>
<rect x="677.5" y="66.5" width="31.5" height="16.5" rx="2.5" fill="#000" shape-rendering="geometricPrecision"/>
<rect x="678.6" y="67.6" width="28.8" height="13.8" rx="1.5" fill="#fff" shape-rendering="geometricPrecision"/>
<text transform="translate(680.11 78.85) scale(0.85 1)" font-size="14" fill="#000" letter-spacing="0.86">CN1</text>
<rect x="678.5" y="160" width="31" height="17.5" rx="2.5" fill="#000" shape-rendering="geometricPrecision"/>
<rect x="679.6" y="161.1" width="28.3" height="14.8" rx="1.5" fill="#fff" shape-rendering="geometricPrecision"/>
<text transform="translate(680.9 172.85) scale(0.85 1)" font-size="14" fill="#000" letter-spacing="0.82">CN2</text>
<rect x="678.5" y="277" width="31" height="16.5" rx="2.5" fill="#000" shape-rendering="geometricPrecision"/>
<rect x="679.6" y="278.1" width="28.3" height="13.8" rx="1.5" fill="#fff" shape-rendering="geometricPrecision"/>
<text transform="translate(680.9 289.35) scale(0.85 1)" font-size="14" fill="#000" letter-spacing="0.77">CN3</text>
<rect x="678.5" y="354" width="31" height="18.5" rx="2.5" fill="#000" shape-rendering="geometricPrecision"/>
<rect x="679.6" y="355.1" width="28.3" height="15.8" rx="1.5" fill="#fff" shape-rendering="geometricPrecision"/>
<text transform="translate(680.9 367.35) scale(0.85 1)" font-size="14" fill="#000" letter-spacing="0.67">CN4</text>
<rect x="665" y="412" width="31.5" height="19" rx="3" fill="#000" shape-rendering="geometricPrecision"/>
<rect x="666.1" y="413.1" width="28" height="15.5" rx="2" fill="#fff" shape-rendering="geometricPrecision"/>
<text transform="translate(667.9 425.6) scale(0.85 1)" font-size="14" fill="#000" letter-spacing="1.05">CN5</text>
<rect x="723" y="511" width="36" height="18" rx="3" fill="#000" shape-rendering="geometricPrecision"/>
<rect x="724.1" y="512.1" width="32.5" height="14.5" rx="2" fill="#fff" shape-rendering="geometricPrecision"/>
<polygon points="723.8,515.3 720.74,516.3 716.15,517.4 708.5,518.3 708.5,520.3 716.15,521.2 720.74,522.3 723.8,523.3" fill="#000" shape-rendering="geometricPrecision"/>
<polygon points="725.64,516.9 723.8,516.9 720.74,518.1 716.15,519.3 720.74,520.5 723.8,521.7 725.64,521.7" fill="#fff" shape-rendering="geometricPrecision"/>
<text transform="translate(725.4 524.1) scale(0.85 1)" font-size="14" fill="#000" letter-spacing="3.12">CN6</text>
<rect x="101" y="207" width="37" height="18.5" rx="5" fill="#000" shape-rendering="geometricPrecision"/>
<rect x="102.1" y="208.1" width="33.5" height="15" rx="4" fill="#fff" shape-rendering="geometricPrecision"/>
<text transform="translate(103.91 220.35) scale(0.85 1)" font-size="14" fill="#000" letter-spacing="3.46">CPU</text>
<rect x="111" y="252" width="39.5" height="16" rx="3" fill="#000" shape-rendering="geometricPrecision"/>
<rect x="112.1" y="253.1" width="36" height="12.5" rx="2" fill="#fff" shape-rendering="geometricPrecision"/>
<polygon points="144.68,267.25 147.57,269 151.65,271.82 157.71,277.11 159.29,275.89 154.1,269.93 151.43,266 149.82,263.25" fill="#000" shape-rendering="geometricPrecision"/>
<text transform="translate(114.32 264.1) scale(0.85 1)" font-size="14" fill="#000" letter-spacing="1.99">JP36</text>
<rect x="75" y="285.5" width="45" height="18.5" rx="3" fill="#000" shape-rendering="geometricPrecision"/>
<rect x="76.1" y="286.6" width="41.5" height="15" rx="2" fill="#fff" shape-rendering="geometricPrecision"/>
<polygon points="117.8,290.5 121.54,291.5 127.15,292.6 136.5,293.5 136.5,295.5 127.15,296.4 121.54,297.5 117.8,298.5" fill="#000" shape-rendering="geometricPrecision"/>
<polygon points="115.56,292.1 117.8,292.1 121.54,293.3 127.15,294.5 121.54,295.7 117.8,296.9 115.56,296.9" fill="#fff" shape-rendering="geometricPrecision"/>
<text transform="translate(78.82 298.85) scale(0.85 1)" font-size="14" fill="#000" letter-spacing="2.53">JP32</text>
<rect x="81" y="347" width="46" height="18" rx="3" fill="#000" shape-rendering="geometricPrecision"/>
<rect x="82.1" y="348.1" width="42.5" height="14.5" rx="2" fill="#fff" shape-rendering="geometricPrecision"/>
<polygon points="124.8,351.5 128.34,352.5 133.65,353.6 142.5,354.5 142.5,356.5 133.65,357.4 128.34,358.5 124.8,359.5" fill="#000" shape-rendering="geometricPrecision"/>
<polygon points="122.68,353.1 124.8,353.1 128.34,354.3 133.65,355.5 128.34,356.7 124.8,357.9 122.68,357.9" fill="#fff" shape-rendering="geometricPrecision"/>
<text transform="translate(84.82 360.1) scale(0.85 1)" font-size="14" fill="#000" letter-spacing="2.91">JP29</text>
<rect x="70.5" y="370" width="45.5" height="18.5" rx="3" fill="#000" shape-rendering="geometricPrecision"/>
<rect x="71.6" y="371.1" width="42" height="15" rx="2" fill="#fff" shape-rendering="geometricPrecision"/>
<polygon points="113.8,375 117.54,376 123.15,377.1 132.5,378 132.5,380 123.15,380.9 117.54,382 113.8,383" fill="#000" shape-rendering="geometricPrecision"/>
<polygon points="111.56,376.6 113.8,376.6 117.54,377.8 123.15,379 117.54,380.2 113.8,381.4 111.56,381.4" fill="#fff" shape-rendering="geometricPrecision"/>
<text transform="translate(74.32 383.35) scale(0.85 1)" font-size="14" fill="#000" letter-spacing="2.67">JP30</text>
<rect x="98" y="396.5" width="42.5" height="18" rx="3" fill="#000" shape-rendering="geometricPrecision"/>
<rect x="99.1" y="397.6" width="39" height="14.5" rx="2" fill="#fff" shape-rendering="geometricPrecision"/>
<polygon points="134.21,399.25 136.69,397.3 140.16,394.18 145.25,388.34 146.75,389.66 142.34,396.07 140.11,400.3 138.79,403.25" fill="#000" shape-rendering="geometricPrecision"/>
<text transform="translate(101.82 409.6) scale(0.85 1)" font-size="14" fill="#000" letter-spacing="3.11">JP31</text>
<rect x="174" y="257" width="43.5" height="18.5" rx="3" fill="#000" shape-rendering="geometricPrecision"/>
<rect x="175.1" y="258.1" width="40" height="15" rx="2" fill="#fff" shape-rendering="geometricPrecision"/>
<polygon points="192.93,273.3 193.87,277.14 194.91,282.9 195.7,292.5 197.7,292.5 198.49,282.9 199.53,277.14 200.47,273.3" fill="#000" shape-rendering="geometricPrecision"/>
<polygon points="194.44,271 194.44,273.3 195.57,277.14 196.7,282.9 197.83,277.14 198.96,273.3 198.96,271" fill="#fff" shape-rendering="geometricPrecision"/>
<text transform="translate(177.62 270.35) scale(0.85 1)" font-size="14" fill="#000" letter-spacing="2.54">JP13</text>
<rect x="182" y="316" width="45" height="18.5" rx="3" fill="#000" shape-rendering="geometricPrecision"/>
<rect x="183.1" y="317.1" width="41.5" height="15" rx="2" fill="#fff" shape-rendering="geometricPrecision"/>
<polygon points="224.8,320 228.54,321 234.15,322.1 243.5,323 243.5,325 234.15,325.9 228.54,327 224.8,328" fill="#000" shape-rendering="geometricPrecision"/>
<polygon points="222.56,321.6 224.8,321.6 228.54,322.8 234.15,324 228.54,325.2 224.8,326.4 222.56,326.4" fill="#fff" shape-rendering="geometricPrecision"/>
<text transform="translate(185.82 329.35) scale(0.85 1)" font-size="14" fill="#000" letter-spacing="2.53">JP12</text>
<rect x="209.5" y="335" width="44.5" height="16.5" rx="3" fill="#000" shape-rendering="geometricPrecision"/>
<rect x="210.6" y="336.1" width="41" height="13" rx="2" fill="#fff" shape-rendering="geometricPrecision"/>
<polygon points="251.8,338.5 255.54,339.5 261.15,340.6 270.5,341.5 270.5,343.5 261.15,344.4 255.54,345.5 251.8,346.5" fill="#000" shape-rendering="geometricPrecision"/>
<polygon points="249.56,340.1 251.8,340.1 255.54,341.3 261.15,342.5 255.54,343.7 251.8,344.9 249.56,344.9" fill="#fff" shape-rendering="geometricPrecision"/>
<text transform="translate(212.41 347.35) scale(0.85 1)" font-size="14" fill="#000" letter-spacing="3.38">CN11</text>
<rect x="181" y="379" width="43" height="18.5" rx="3" fill="#000" shape-rendering="geometricPrecision"/>
<rect x="182.1" y="380.1" width="39.5" height="15" rx="2" fill="#fff" shape-rendering="geometricPrecision"/>
<polygon points="197.73,379.8 198.67,376.24 199.71,370.9 200.5,362 202.5,362 203.29,370.9 204.33,376.24 205.27,379.8" fill="#000" shape-rendering="geometricPrecision"/>
<polygon points="199.24,381.94 199.24,379.8 200.37,376.24 201.5,370.9 202.63,376.24 203.76,379.8 203.76,381.94" fill="#fff" shape-rendering="geometricPrecision"/>
<text transform="translate(184.82 392.35) scale(0.85 1)" font-size="14" fill="#000" letter-spacing="1.7">JP35</text>
<rect x="215" y="411" width="46.5" height="18.5" rx="3" fill="#000" shape-rendering="geometricPrecision"/>
<rect x="216.1" y="412.1" width="43" height="15" rx="2" fill="#fff" shape-rendering="geometricPrecision"/>
<polygon points="259.3,415.8 262.94,416.8 268.4,417.9 277.5,418.8 277.5,420.8 268.4,421.7 262.94,422.8 259.3,423.8" fill="#000" shape-rendering="geometricPrecision"/>
<polygon points="257.12,417.4 259.3,417.4 262.94,418.6 268.4,419.8 262.94,421 259.3,422.2 257.12,422.2" fill="#fff" shape-rendering="geometricPrecision"/>
<text transform="translate(218.82 424.35) scale(0.85 1)" font-size="14" fill="#000" letter-spacing="3.06">JP10</text>
<rect x="320.5" y="278.5" width="31.5" height="18" rx="3" fill="#000" shape-rendering="geometricPrecision"/>
<rect x="321.6" y="279.6" width="28" height="14.5" rx="2" fill="#fff" shape-rendering="geometricPrecision"/>
<text transform="translate(324.24 291.6) scale(0.85 1)" font-size="14" fill="#000" letter-spacing="0.33">TAG</text>
<rect x="242" y="387.5" width="35.5" height="18" rx="3" fill="#000" shape-rendering="geometricPrecision"/>
<rect x="243.1" y="388.6" width="32" height="14.5" rx="2" fill="#fff" shape-rendering="geometricPrecision"/>
<polygon points="275.3,391.7 278.74,392.7 283.9,393.8 292.5,394.7 292.5,396.7 283.9,397.6 278.74,398.7 275.3,399.7" fill="#000" shape-rendering="geometricPrecision"/>
<polygon points="273.24,393.3 275.3,393.3 278.74,394.5 283.9,395.7 278.74,396.9 275.3,398.1 273.24,398.1" fill="#fff" shape-rendering="geometricPrecision"/>
<text transform="translate(245.41 400.6) scale(0.85 1)" font-size="14" fill="#000" letter-spacing="0.38">CN9</text>
<rect x="361" y="384.5" width="35.5" height="19.2" rx="3" fill="#000" shape-rendering="geometricPrecision"/>
<rect x="362.1" y="385.6" width="32" height="15.7" rx="2" fill="#fff" shape-rendering="geometricPrecision"/>
<polygon points="361.8,389.2 358.84,390.2 354.4,391.3 347,392.2 347,394.2 354.4,395.1 358.84,396.2 361.8,397.2" fill="#000" shape-rendering="geometricPrecision"/>
<polygon points="363.58,390.8 361.8,390.8 358.84,392 354.4,393.2 358.84,394.4 361.8,395.6 363.58,395.6" fill="#fff" shape-rendering="geometricPrecision"/>
<text transform="translate(364.4 398.2) scale(0.85 1)" font-size="14" fill="#000" letter-spacing="0.41">CN7</text>
<rect x="408" y="214" width="36.5" height="18.5" rx="3" fill="#000" shape-rendering="geometricPrecision"/>
<rect x="409.1" y="215.1" width="33" height="15" rx="2" fill="#fff" shape-rendering="geometricPrecision"/>
<polygon points="442.3,218.7 445.74,219.7 450.9,220.8 459.5,221.7 459.5,223.7 450.9,224.6 445.74,225.7 442.3,226.7" fill="#000" shape-rendering="geometricPrecision"/>
<polygon points="440.24,220.3 442.3,220.3 445.74,221.5 450.9,222.7 445.74,223.9 442.3,225.1 440.24,225.1" fill="#fff" shape-rendering="geometricPrecision"/>
<text transform="translate(411.82 227.35) scale(0.85 1)" font-size="14" fill="#000" letter-spacing="2.67">JP9</text>
<rect x="457.5" y="447" width="35" height="18" rx="3" fill="#000" shape-rendering="geometricPrecision"/>
<rect x="458.6" y="448.1" width="31.5" height="14.5" rx="2" fill="#fff" shape-rendering="geometricPrecision"/>
<polygon points="490.3,451.7 493.74,452.7 498.9,453.8 507.5,454.7 507.5,456.7 498.9,457.6 493.74,458.7 490.3,459.7" fill="#000" shape-rendering="geometricPrecision"/>
<polygon points="488.24,453.3 490.3,453.3 493.74,454.5 498.9,455.7 493.74,456.9 490.3,458.1 488.24,458.1" fill="#fff" shape-rendering="geometricPrecision"/>
<text transform="translate(461.32 460.1) scale(0.85 1)" font-size="14" fill="#000" letter-spacing="1.76">JP8</text>
<rect x="504" y="412.3" width="34.5" height="17.7" rx="3" fill="#000" shape-rendering="geometricPrecision"/>
<rect x="505.1" y="413.4" width="31" height="14.2" rx="2" fill="#fff" shape-rendering="geometricPrecision"/>
<polygon points="516.73,427.8 517.67,431.64 518.71,437.4 519.5,447 521.5,447 522.29,437.4 523.33,431.64 524.27,427.8" fill="#000" shape-rendering="geometricPrecision"/>
<polygon points="518.24,425.5 518.24,427.8 519.37,431.64 520.5,437.4 521.63,431.64 522.76,427.8 522.76,425.5" fill="#fff" shape-rendering="geometricPrecision"/>
<text transform="translate(507.82 425.25) scale(0.85 1)" font-size="14" fill="#000" letter-spacing="1.51">JP7</text>
<rect x="553.8" y="447" width="36.2" height="18.5" rx="3" fill="#000" shape-rendering="geometricPrecision"/>
<rect x="554.9" y="448.1" width="32.7" height="15" rx="2" fill="#fff" shape-rendering="geometricPrecision"/>
<polygon points="554.6,452 551.68,453 547.3,454.1 540,455 540,457 547.3,457.9 551.68,459 554.6,460" fill="#000" shape-rendering="geometricPrecision"/>
<polygon points="556.35,453.6 554.6,453.6 551.68,454.8 547.3,456 551.68,457.2 554.6,458.4 556.35,458.4" fill="#fff" shape-rendering="geometricPrecision"/>
<text transform="translate(557.62 460.35) scale(0.85 1)" font-size="14" fill="#000" letter-spacing="2.46">JP6</text>
<rect x="594.5" y="475.3" width="43" height="17.2" rx="3" fill="#000" shape-rendering="geometricPrecision"/>
<rect x="595.6" y="476.4" width="39.5" height="13.7" rx="2" fill="#fff" shape-rendering="geometricPrecision"/>
<polygon points="595.3,479.5 591.74,480.5 586.4,481.6 577.5,482.5 577.5,484.5 586.4,485.4 591.74,486.5 595.3,487.5" fill="#000" shape-rendering="geometricPrecision"/>
<polygon points="597.44,481.1 595.3,481.1 591.74,482.3 586.4,483.5 591.74,484.7 595.3,485.9 597.44,485.9" fill="#fff" shape-rendering="geometricPrecision"/>
<text transform="translate(598.82 488) scale(0.85 1)" font-size="14" fill="#000" letter-spacing="2.87">JPX1</text>
<rect x="372" y="530" width="26" height="18.5" rx="3" fill="#000" shape-rendering="geometricPrecision"/>
<rect x="373.1" y="531.1" width="22.5" height="15" rx="2" fill="#fff" shape-rendering="geometricPrecision"/>
<polygon points="395.8,534.3 399.14,535.3 404.15,536.4 412.5,537.3 412.5,539.3 404.15,540.2 399.14,541.3 395.8,542.3" fill="#000" shape-rendering="geometricPrecision"/>
<polygon points="393.8,535.9 395.8,535.9 399.14,537.1 404.15,538.3 399.14,539.5 395.8,540.7 393.8,540.7" fill="#fff" shape-rendering="geometricPrecision"/>
<text transform="translate(375.4 543.35) scale(0.85 1)" font-size="14" fill="#000" letter-spacing="-0.26">C2</text>
<rect x="555" y="520" width="36.5" height="17.5" rx="3" fill="#000" shape-rendering="geometricPrecision"/>
<rect x="556.1" y="521.1" width="33" height="14" rx="2" fill="#fff" shape-rendering="geometricPrecision"/>
<polygon points="589.3,524.7 592.74,525.7 597.9,526.8 606.5,527.7 606.5,529.7 597.9,530.6 592.74,531.7 589.3,532.7" fill="#000" shape-rendering="geometricPrecision"/>
<polygon points="587.24,526.3 589.3,526.3 592.74,527.5 597.9,528.7 592.74,529.9 589.3,531.1 587.24,531.1" fill="#fff" shape-rendering="geometricPrecision"/>
<text transform="translate(558.82 532.85) scale(0.85 1)" font-size="14" fill="#000" letter-spacing="2.64">JP3</text>
<rect x="647" y="522" width="35" height="17.5" rx="3" fill="#000" shape-rendering="geometricPrecision"/>
<rect x="648.1" y="523.1" width="31.5" height="14" rx="2" fill="#fff" shape-rendering="geometricPrecision"/>
<polygon points="647.8,525.7 644.84,526.7 640.4,527.8 633,528.7 633,530.7 640.4,531.6 644.84,532.7 647.8,533.7" fill="#000" shape-rendering="geometricPrecision"/>
<polygon points="649.58,527.3 647.8,527.3 644.84,528.5 640.4,529.7 644.84,530.9 647.8,532.1 649.58,532.1" fill="#fff" shape-rendering="geometricPrecision"/>
<text transform="translate(650.82 534.85) scale(0.85 1)" font-size="14" fill="#000" letter-spacing="1.03">JP1</text>
<rect x="601" y="555.3" width="34" height="17.7" rx="3" fill="#000" shape-rendering="geometricPrecision"/>
<rect x="602.1" y="556.4" width="30.5" height="14.2" rx="2" fill="#fff" shape-rendering="geometricPrecision"/>
<polygon points="615.27,556.1 616.13,552.58 617.07,547.3 617.7,538.5 619.7,538.5 620.33,547.3 621.27,552.58 622.13,556.1" fill="#000" shape-rendering="geometricPrecision"/>
<polygon points="616.64,558.21 616.64,556.1 617.67,552.58 618.7,547.3 619.73,552.58 620.76,556.1 620.76,558.21" fill="#fff" shape-rendering="geometricPrecision"/>
<text transform="translate(606.12 568.25) scale(0.85 1)" font-size="14" fill="#000" letter-spacing="1.86">JP2</text>
</g>
</svg>
</body></html>
